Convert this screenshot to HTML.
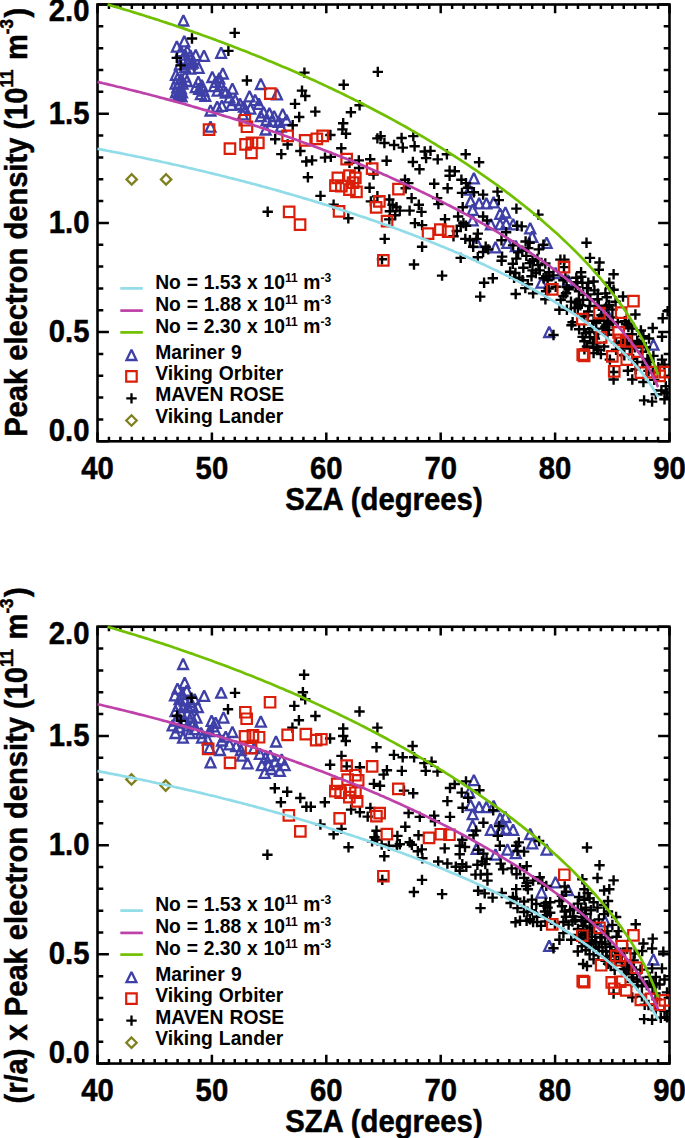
<!DOCTYPE html>
<html><head><meta charset="utf-8"><title>Peak electron density vs SZA</title>
<style>html,body{margin:0;padding:0;background:#fff}svg{display:block}</style></head>
<body>
<svg width="685" height="1138" viewBox="0 0 685 1138">
<rect width="685" height="1138" fill="#fff"/>
<clipPath id="cp1"><rect x="97.5" y="4.5" width="572.0" height="436.8"/></clipPath>
<rect x="97.50" y="4.50" width="572.00" height="436.80" fill="none" stroke="#000" stroke-width="2.6"/>
<path d="M97.50 441.30v-8.8M97.50 4.50v8.8M108.94 441.30v-4.5M108.94 4.50v4.5M120.38 441.30v-4.5M120.38 4.50v4.5M131.82 441.30v-4.5M131.82 4.50v4.5M143.26 441.30v-4.5M143.26 4.50v4.5M154.70 441.30v-4.5M154.70 4.50v4.5M166.14 441.30v-4.5M166.14 4.50v4.5M177.58 441.30v-4.5M177.58 4.50v4.5M189.02 441.30v-4.5M189.02 4.50v4.5M200.46 441.30v-4.5M200.46 4.50v4.5M211.90 441.30v-8.8M211.90 4.50v8.8M223.34 441.30v-4.5M223.34 4.50v4.5M234.78 441.30v-4.5M234.78 4.50v4.5M246.22 441.30v-4.5M246.22 4.50v4.5M257.66 441.30v-4.5M257.66 4.50v4.5M269.10 441.30v-4.5M269.10 4.50v4.5M280.54 441.30v-4.5M280.54 4.50v4.5M291.98 441.30v-4.5M291.98 4.50v4.5M303.42 441.30v-4.5M303.42 4.50v4.5M314.86 441.30v-4.5M314.86 4.50v4.5M326.30 441.30v-8.8M326.30 4.50v8.8M337.74 441.30v-4.5M337.74 4.50v4.5M349.18 441.30v-4.5M349.18 4.50v4.5M360.62 441.30v-4.5M360.62 4.50v4.5M372.06 441.30v-4.5M372.06 4.50v4.5M383.50 441.30v-4.5M383.50 4.50v4.5M394.94 441.30v-4.5M394.94 4.50v4.5M406.38 441.30v-4.5M406.38 4.50v4.5M417.82 441.30v-4.5M417.82 4.50v4.5M429.26 441.30v-4.5M429.26 4.50v4.5M440.70 441.30v-8.8M440.70 4.50v8.8M452.14 441.30v-4.5M452.14 4.50v4.5M463.58 441.30v-4.5M463.58 4.50v4.5M475.02 441.30v-4.5M475.02 4.50v4.5M486.46 441.30v-4.5M486.46 4.50v4.5M497.90 441.30v-4.5M497.90 4.50v4.5M509.34 441.30v-4.5M509.34 4.50v4.5M520.78 441.30v-4.5M520.78 4.50v4.5M532.22 441.30v-4.5M532.22 4.50v4.5M543.66 441.30v-4.5M543.66 4.50v4.5M555.10 441.30v-8.8M555.10 4.50v8.8M566.54 441.30v-4.5M566.54 4.50v4.5M577.98 441.30v-4.5M577.98 4.50v4.5M589.42 441.30v-4.5M589.42 4.50v4.5M600.86 441.30v-4.5M600.86 4.50v4.5M612.30 441.30v-4.5M612.30 4.50v4.5M623.74 441.30v-4.5M623.74 4.50v4.5M635.18 441.30v-4.5M635.18 4.50v4.5M646.62 441.30v-4.5M646.62 4.50v4.5M658.06 441.30v-4.5M658.06 4.50v4.5M669.50 441.30v-8.8M669.50 4.50v8.8M97.50 441.30h11.4M669.50 441.30h-11.4M97.50 419.46h5.8M669.50 419.46h-5.8M97.50 397.62h5.8M669.50 397.62h-5.8M97.50 375.78h5.8M669.50 375.78h-5.8M97.50 353.94h5.8M669.50 353.94h-5.8M97.50 332.10h11.4M669.50 332.10h-11.4M97.50 310.26h5.8M669.50 310.26h-5.8M97.50 288.42h5.8M669.50 288.42h-5.8M97.50 266.58h5.8M669.50 266.58h-5.8M97.50 244.74h5.8M669.50 244.74h-5.8M97.50 222.90h11.4M669.50 222.90h-11.4M97.50 201.06h5.8M669.50 201.06h-5.8M97.50 179.22h5.8M669.50 179.22h-5.8M97.50 157.38h5.8M669.50 157.38h-5.8M97.50 135.54h5.8M669.50 135.54h-5.8M97.50 113.70h11.4M669.50 113.70h-11.4M97.50 91.86h5.8M669.50 91.86h-5.8M97.50 70.02h5.8M669.50 70.02h-5.8M97.50 48.18h5.8M669.50 48.18h-5.8M97.50 26.34h5.8M669.50 26.34h-5.8M97.50 4.50h11.4M669.50 4.50h-11.4" stroke="#000" stroke-width="2.5" fill="none"/>
<path d="M468.9 183.4L478.8 183.4L473.9 173.1ZM464.4 194.6L474.2 194.6L469.3 184.3ZM465.7 206.4L475.6 206.4L470.6 196.1ZM474.2 208.4L484.1 208.4L479.1 198.1ZM481.4 208.4L491.3 208.4L486.4 198.1ZM488.7 207.4L498.6 207.4L493.6 197.1ZM467.7 214.9L477.6 214.9L472.6 204.6ZM495.2 218.9L505.1 218.9L500.1 208.6ZM500.4 217.5L510.3 217.5L505.4 207.2ZM485.9 229.4L495.8 229.4L490.9 219.1ZM495.2 229.4L505.1 229.4L500.1 219.1ZM501.2 228.7L511.1 228.7L506.1 218.4ZM467.7 225.4L477.6 225.4L472.6 215.1ZM490.6 252.4L500.4 252.4L495.5 242.1ZM502.4 247.8L512.4 247.8L507.4 237.5ZM471.6 247.1L481.4 247.1L476.5 236.8ZM508.2 229.4L518.1 229.4L513.1 219.1ZM525.2 233.3L535.2 233.3L530.2 223.0ZM527.2 241.9L537.2 241.9L532.2 231.6ZM541.6 247.8L551.6 247.8L546.6 237.5ZM510.8 251.1L520.8 251.1L515.8 240.8ZM544.2 337.0L554.2 337.0L549.2 326.7ZM648.4 349.7L658.4 349.7L653.4 339.4ZM220.8 97.5L230.6 97.5L225.7 87.2ZM227.5 93.7L237.3 93.7L232.4 83.4ZM224.6 102.3L234.4 102.3L229.5 92.0ZM230.2 105.1L240.1 105.1L235.2 94.8ZM235.1 108.9L244.9 108.9L240.0 98.6ZM226.5 109.8L236.3 109.8L231.4 99.5ZM238.9 111.7L248.8 111.7L243.8 101.4ZM244.6 101.3L254.4 101.3L249.5 91.0ZM250.2 105.1L260.1 105.1L255.1 94.8ZM253.9 108.9L263.8 108.9L258.9 98.6ZM255.9 89.0L265.8 89.0L260.8 78.7ZM272.1 99.4L281.9 99.4L277.0 89.1ZM205.6 115.5L215.4 115.5L210.5 105.2ZM212.2 111.7L222.1 111.7L217.2 101.4ZM217.0 110.8L226.8 110.8L221.9 100.5ZM205.6 131.7L215.4 131.7L210.5 121.4ZM258.8 117.4L268.6 117.4L263.7 107.1ZM264.4 118.4L274.3 118.4L269.4 108.1ZM255.9 121.2L265.8 121.2L260.8 110.9ZM269.2 121.2L279.1 121.2L274.1 110.9ZM277.8 119.3L287.6 119.3L282.7 109.0ZM261.6 125.0L271.4 125.0L266.5 114.7ZM267.2 126.0L277.1 126.0L272.2 115.7ZM273.9 126.9L283.8 126.9L278.9 116.6ZM281.6 125.0L291.4 125.0L286.5 114.7ZM260.7 134.5L270.6 134.5L265.6 124.2ZM275.9 131.7L285.8 131.7L280.8 121.4ZM245.5 113.6L255.3 113.6L250.4 103.3ZM237.9 119.3L247.8 119.3L242.8 109.0ZM179.4 46.4L189.2 46.4L184.3 36.1ZM171.9 51.6L181.8 51.6L176.8 41.3ZM182.4 55.8L192.2 55.8L187.3 45.5ZM190.8 60.1L200.6 60.1L195.7 49.8ZM199.1 60.8L208.9 60.8L204.0 50.5ZM216.2 57.8L226.0 57.8L221.1 47.5ZM193.8 72.8L203.6 72.8L198.7 62.5ZM186.4 68.5L196.2 68.5L191.3 58.2ZM175.9 56.2L185.8 56.2L180.8 45.9ZM180.2 59.7L190.0 59.7L185.1 49.4ZM185.5 60.6L195.3 60.6L190.4 50.3ZM177.6 64.1L187.4 64.1L182.5 53.8ZM182.9 66.7L192.8 66.7L187.8 56.4ZM188.1 67.6L197.9 67.6L193.0 57.3ZM180.2 72.0L190.0 72.0L185.1 61.7ZM185.5 73.7L195.3 73.7L190.4 63.4ZM175.0 69.3L184.8 69.3L179.9 59.0ZM172.8 83.3L182.6 83.3L177.7 73.0ZM176.2 84.2L186.1 84.2L181.2 73.9ZM174.1 87.7L183.9 87.7L179.0 77.4ZM177.6 88.6L187.4 88.6L182.5 78.3ZM172.4 92.1L182.2 92.1L177.3 81.8ZM175.9 93.0L185.8 93.0L180.8 82.7ZM174.1 96.5L183.9 96.5L179.0 86.2ZM177.2 97.4L187.0 97.4L182.1 87.1ZM173.2 100.9L183.0 100.9L178.1 90.6ZM176.7 101.3L186.5 101.3L181.6 91.0ZM175.0 99.1L184.8 99.1L179.9 88.8ZM180.2 81.6L190.0 81.6L185.1 71.3ZM182.0 86.0L191.8 86.0L186.9 75.7ZM193.4 86.9L203.2 86.9L198.3 76.6ZM196.9 90.4L206.8 90.4L201.8 80.1ZM194.2 93.9L204.1 93.9L199.2 83.6ZM198.6 95.6L208.4 95.6L203.5 85.3ZM196.0 99.1L205.8 99.1L200.9 88.8ZM200.4 100.9L210.2 100.9L205.3 90.6ZM190.8 92.1L200.6 92.1L195.7 81.8ZM207.4 82.0L217.2 82.0L212.3 71.7ZM210.9 86.9L220.8 86.9L215.8 76.6ZM214.4 83.3L224.2 83.3L219.3 73.0ZM217.9 78.5L227.8 78.5L222.8 68.2ZM209.1 91.2L218.9 91.2L214.0 80.9ZM216.2 90.4L226.0 90.4L221.1 80.1ZM212.7 95.6L222.5 95.6L217.6 85.3ZM218.8 95.6L228.6 95.6L223.7 85.3ZM171.0 79.8L180.8 79.8L175.9 69.5ZM170.6 88.6L180.4 88.6L175.5 78.3ZM171.0 97.4L180.8 97.4L175.9 87.1ZM550.5 278.1L560.5 278.1L555.5 267.8ZM536.5 287.7L546.5 287.7L541.5 277.4ZM563.0 285.3L573.0 285.3L568.0 275.0ZM600.0 314.3L610.0 314.3L605.0 304.0ZM178.5 25.5L188.3 25.5L183.4 15.2Z" stroke="#3e40a8" stroke-width="2.3" fill="none" stroke-linejoin="miter" stroke-miterlimit="2.2" clip-path="url(#cp1)"/>
<path d="M337.2 129.4h10.4M342.4 124.2v10.4M592.9 333.3h10.4M598.1 328.1v10.4M593.7 319.0h10.4M598.9 313.8v10.4M596.3 315.3h10.4M601.5 310.1v10.4M603.1 316.6h10.4M608.3 311.4v10.4M584.4 306.0h10.4M589.6 300.8v10.4M572.2 282.3h10.4M577.4 277.1v10.4M569.5 308.0h10.4M574.7 302.8v10.4M623.2 327.0h10.4M628.4 321.8v10.4M602.3 320.8h10.4M607.5 315.6v10.4M576.1 276.7h10.4M581.3 271.5v10.4M570.5 287.1h10.4M575.7 281.9v10.4M577.9 294.7h10.4M583.1 289.5v10.4M593.6 305.7h10.4M598.8 300.5v10.4M592.3 299.3h10.4M597.5 294.1v10.4M603.7 329.9h10.4M608.9 324.7v10.4M583.0 311.5h10.4M588.2 306.3v10.4M624.1 323.7h10.4M629.3 318.5v10.4M607.5 323.1h10.4M612.7 317.9v10.4M585.1 299.7h10.4M590.3 294.5v10.4M571.1 277.7h10.4M576.3 272.5v10.4M610.9 342.7h10.4M616.1 337.5v10.4M589.2 290.4h10.4M594.4 285.2v10.4M621.9 338.3h10.4M627.1 333.1v10.4M619.1 355.3h10.4M624.3 350.1v10.4M582.5 315.3h10.4M587.7 310.1v10.4M610.4 301.7h10.4M615.6 296.5v10.4M573.8 291.3h10.4M579.0 286.1v10.4M612.6 322.1h10.4M617.8 316.9v10.4M592.7 293.7h10.4M597.9 288.5v10.4M603.9 324.6h10.4M609.1 319.4v10.4M573.7 299.7h10.4M578.9 294.5v10.4M582.5 294.4h10.4M587.7 289.2v10.4M617.7 341.5h10.4M622.9 336.3v10.4M579.1 316.5h10.4M584.3 311.3v10.4M603.8 305.0h10.4M609.0 299.8v10.4M626.8 342.7h10.4M632.0 337.5v10.4M643.3 370.9h10.4M648.5 365.7v10.4M620.9 324.2h10.4M626.1 319.0v10.4M621.4 344.3h10.4M626.6 339.1v10.4M637.8 361.9h10.4M643.0 356.7v10.4M630.4 369.3h10.4M635.6 364.1v10.4M634.0 343.6h10.4M639.2 338.4v10.4M636.9 351.8h10.4M642.1 346.6v10.4M647.6 372.4h10.4M652.8 367.2v10.4M624.6 348.5h10.4M629.8 343.3v10.4M642.2 359.0h10.4M647.4 353.8v10.4M649.0 379.9h10.4M654.2 374.7v10.4M641.1 365.0h10.4M646.3 359.8v10.4M626.8 334.2h10.4M632.0 329.0v10.4M627.9 359.1h10.4M633.1 353.9v10.4M625.9 345.7h10.4M631.1 340.5v10.4M636.5 346.5h10.4M641.7 341.3v10.4M532.2 258.9h10.4M537.4 253.7v10.4M527.3 260.8h10.4M532.5 255.6v10.4M540.1 263.5h10.4M545.3 258.3v10.4M560.2 277.6h10.4M565.4 272.4v10.4M565.8 301.6h10.4M571.0 296.4v10.4M540.9 291.2h10.4M546.1 286.0v10.4M513.0 252.4h10.4M518.2 247.2v10.4M561.4 287.1h10.4M566.6 281.9v10.4M548.2 275.4h10.4M553.4 270.2v10.4M544.2 276.0h10.4M549.4 270.8v10.4M534.5 270.4h10.4M539.7 265.2v10.4M508.9 277.8h10.4M514.1 272.6v10.4M560.8 293.2h10.4M566.0 288.0v10.4M550.5 286.7h10.4M555.7 281.5v10.4M561.7 309.8h10.4M566.9 304.6v10.4M526.3 276.3h10.4M531.5 271.1v10.4M540.2 299.2h10.4M545.4 294.0v10.4M543.5 288.6h10.4M548.7 283.4v10.4M577.4 336.9h10.4M582.6 331.7v10.4M587.8 343.3h10.4M593.0 338.1v10.4M591.6 347.2h10.4M596.8 342.0v10.4M584.9 337.3h10.4M590.1 332.1v10.4M573.9 329.3h10.4M579.1 324.1v10.4M591.3 343.0h10.4M596.5 337.8v10.4M578.9 329.2h10.4M584.1 324.0v10.4M595.7 354.1h10.4M600.9 348.9v10.4M593.1 349.9h10.4M598.3 344.7v10.4M186.8 38.5h10.4M192.0 33.3v10.4M229.5 32.9h10.4M234.7 27.7v10.4M223.2 50.9h10.4M228.4 45.7v10.4M171.6 57.9h10.4M176.8 52.7v10.4M175.4 65.4h10.4M180.6 60.2v10.4M241.7 80.5h10.4M246.9 75.3v10.4M299.2 72.6h10.4M304.4 67.4v10.4M296.8 90.6h10.4M302.0 85.4v10.4M300.1 96.0h10.4M305.3 90.8v10.4M289.8 103.9h10.4M295.0 98.7v10.4M310.1 111.6h10.4M315.3 106.4v10.4M294.0 117.0h10.4M299.2 111.8v10.4M287.5 125.2h10.4M292.7 120.0v10.4M372.6 71.9h10.4M377.8 66.7v10.4M338.5 84.7h10.4M343.7 79.5v10.4M354.4 105.3h10.4M359.6 100.1v10.4M345.7 112.3h10.4M350.9 107.1v10.4M338.0 123.3h10.4M343.2 118.1v10.4M340.8 133.8h10.4M346.0 128.6v10.4M325.2 135.0h10.4M330.4 129.8v10.4M375.4 136.1h10.4M380.6 130.9v10.4M396.4 138.0h10.4M401.6 132.8v10.4M408.1 136.1h10.4M413.3 130.9v10.4M270.0 139.3h10.4M275.2 134.1v10.4M282.4 144.5h10.4M287.6 139.3v10.4M276.1 154.1h10.4M281.3 148.9v10.4M295.2 151.0h10.4M300.4 145.8v10.4M301.1 161.5h10.4M306.3 156.3v10.4M306.9 160.4h10.4M312.1 155.2v10.4M319.8 157.6h10.4M325.0 152.4v10.4M325.6 156.9h10.4M330.8 151.7v10.4M336.1 148.2h10.4M341.3 143.0v10.4M302.7 177.2h10.4M307.9 172.0v10.4M315.3 195.9h10.4M320.5 190.7v10.4M328.4 204.7h10.4M333.6 199.5v10.4M343.1 218.3h10.4M348.3 213.1v10.4M262.5 211.8h10.4M267.7 206.6v10.4M344.3 162.7h10.4M349.5 157.5v10.4M353.6 160.4h10.4M358.8 155.2v10.4M372.2 138.4h10.4M377.4 133.2v10.4M379.2 143.0h10.4M384.4 137.8v10.4M388.9 145.0h10.4M394.1 139.8v10.4M397.6 147.6h10.4M402.8 142.4v10.4M409.4 146.3h10.4M414.6 141.1v10.4M419.5 151.5h10.4M424.7 146.3v10.4M420.9 158.1h10.4M426.1 152.9v10.4M407.7 162.0h10.4M412.9 156.8v10.4M414.3 169.3h10.4M419.5 164.1v10.4M381.4 160.7h10.4M386.6 155.5v10.4M365.0 159.2h10.4M370.2 154.0v10.4M353.9 168.0h10.4M359.1 162.8v10.4M368.3 174.5h10.4M373.5 169.3v10.4M399.8 179.8h10.4M405.0 174.6v10.4M403.1 183.1h10.4M408.3 177.9v10.4M364.4 187.7h10.4M369.6 182.5v10.4M425.3 150.9h10.4M430.5 145.7v10.4M432.5 159.4h10.4M437.7 154.2v10.4M441.7 154.2h10.4M446.9 149.0v10.4M460.5 154.2h10.4M465.7 149.0v10.4M473.9 162.3h10.4M479.1 157.1v10.4M444.4 170.6h10.4M449.6 165.4v10.4M449.6 171.2h10.4M454.8 166.0v10.4M444.4 175.8h10.4M449.6 170.6v10.4M456.2 179.8h10.4M461.4 174.6v10.4M460.8 183.1h10.4M466.0 177.9v10.4M462.8 187.7h10.4M468.0 182.5v10.4M429.0 183.7h10.4M434.2 178.5v10.4M442.4 188.3h10.4M447.6 183.1v10.4M456.8 192.9h10.4M462.0 187.7v10.4M468.7 192.3h10.4M473.9 187.1v10.4M477.9 194.6h10.4M483.1 189.4v10.4M492.3 191.6h10.4M497.5 186.4v10.4M400.5 188.3h10.4M405.7 183.1v10.4M379.5 238.9h10.4M384.7 233.7v10.4M416.9 246.8h10.4M422.1 241.6v10.4M406.4 198.1h10.4M411.6 192.9v10.4M413.6 204.7h10.4M418.8 199.5v10.4M416.3 211.9h10.4M421.5 206.7v10.4M404.4 210.6h10.4M409.6 205.4v10.4M409.7 223.1h10.4M414.9 217.9v10.4M416.9 225.1h10.4M422.1 219.9v10.4M384.1 199.5h10.4M389.3 194.3v10.4M365.7 201.4h10.4M370.9 196.2v10.4M372.2 196.2h10.4M377.4 191.0v10.4M387.4 204.7h10.4M392.6 199.5v10.4M391.3 207.3h10.4M396.5 202.1v10.4M394.6 210.6h10.4M399.8 205.4v10.4M384.7 211.3h10.4M389.9 206.1v10.4M390.0 215.2h10.4M395.2 210.0v10.4M384.1 219.4h10.4M389.3 214.2v10.4M376.8 259.2h10.4M382.0 254.0v10.4M493.6 200.1h10.4M498.8 194.9v10.4M431.9 198.1h10.4M437.1 192.9v10.4M433.2 204.1h10.4M438.4 198.9v10.4M439.8 219.2h10.4M445.0 214.0v10.4M457.5 207.3h10.4M462.7 202.1v10.4M452.9 216.5h10.4M458.1 211.3v10.4M458.2 223.1h10.4M463.4 217.9v10.4M460.8 225.7h10.4M466.0 220.5v10.4M455.5 225.7h10.4M460.7 220.5v10.4M477.9 216.5h10.4M483.1 211.3v10.4M481.8 220.5h10.4M487.0 215.3v10.4M472.6 233.6h10.4M477.8 228.4v10.4M460.1 238.9h10.4M465.3 233.7v10.4M464.7 240.2h10.4M469.9 235.0v10.4M471.3 238.9h10.4M476.5 233.7v10.4M468.0 246.8h10.4M473.2 241.6v10.4M480.5 246.8h10.4M485.7 241.6v10.4M483.1 249.4h10.4M488.3 244.2v10.4M477.9 252.0h10.4M483.1 246.8v10.4M496.3 240.2h10.4M501.5 235.0v10.4M500.9 232.3h10.4M506.1 227.1v10.4M448.3 236.2h10.4M453.5 231.0v10.4M451.6 231.0h10.4M456.8 225.8v10.4M455.5 257.9h10.4M460.7 252.7v10.4M472.6 257.3h10.4M477.8 252.1v10.4M496.9 256.6h10.4M502.1 251.4v10.4M511.2 208.6h10.4M516.4 203.4v10.4M533.2 214.6h10.4M538.4 209.4v10.4M581.3 242.8h10.4M586.5 237.6v10.4M511.9 225.7h10.4M517.1 220.5v10.4M516.5 226.4h10.4M521.7 221.2v10.4M507.9 245.4h10.4M513.1 240.2v10.4M520.4 241.5h10.4M525.6 236.3v10.4M524.4 242.8h10.4M529.6 237.6v10.4M523.0 248.1h10.4M528.2 242.9v10.4M517.1 250.7h10.4M522.3 245.5v10.4M533.6 249.4h10.4M538.8 244.2v10.4M538.2 244.8h10.4M543.4 239.6v10.4M511.2 258.6h10.4M516.4 253.4v10.4M521.1 255.9h10.4M526.3 250.7v10.4M555.2 259.6h10.4M560.4 254.4v10.4M559.2 259.6h10.4M564.4 254.4v10.4M584.8 257.9h10.4M590.0 252.7v10.4M408.8 264.5h10.4M414.0 259.3v10.4M436.9 275.6h10.4M442.1 270.4v10.4M496.4 260.8h10.4M501.6 255.6v10.4M507.6 263.8h10.4M512.8 258.6v10.4M504.9 271.7h10.4M510.1 266.5v10.4M510.2 273.0h10.4M515.4 267.8v10.4M514.1 277.6h10.4M519.3 272.4v10.4M487.6 278.2h10.4M492.8 273.0v10.4M478.9 282.8h10.4M484.1 277.6v10.4M475.0 296.6h10.4M480.2 291.4v10.4M510.5 294.0h10.4M515.7 288.8v10.4M524.7 263.1h10.4M529.9 257.9v10.4M518.1 267.7h10.4M523.3 262.5v10.4M527.3 270.4h10.4M532.5 265.2v10.4M533.2 265.1h10.4M538.4 259.9v10.4M530.6 273.0h10.4M535.8 267.8v10.4M517.4 280.2h10.4M522.6 275.0v10.4M522.7 284.2h10.4M527.9 279.0v10.4M527.9 293.4h10.4M533.1 288.2v10.4M520.1 288.1h10.4M525.3 282.9v10.4M541.1 276.3h10.4M546.3 271.1v10.4M543.7 272.3h10.4M548.9 267.1v10.4M594.3 262.5h10.4M599.5 257.3v10.4M593.6 269.7h10.4M598.8 264.5v10.4M575.9 272.3h10.4M581.1 267.1v10.4M577.2 282.8h10.4M582.4 277.6v10.4M583.1 282.8h10.4M588.3 277.6v10.4M588.4 281.5h10.4M593.6 276.3v10.4M558.2 280.2h10.4M563.4 275.0v10.4M563.4 289.4h10.4M568.6 284.2v10.4M558.2 296.0h10.4M563.4 290.8v10.4M555.5 299.9h10.4M560.7 294.7v10.4M554.2 309.8h10.4M559.4 304.6v10.4M571.3 302.6h10.4M576.5 297.4v10.4M575.2 305.2h10.4M580.4 300.0v10.4M577.9 299.9h10.4M583.1 294.7v10.4M572.6 307.8h10.4M577.8 302.6v10.4M600.2 293.4h10.4M605.4 288.2v10.4M601.5 297.3h10.4M606.7 292.1v10.4M604.1 282.8h10.4M609.3 277.6v10.4M604.8 288.1h10.4M610.0 282.9v10.4M567.4 322.3h10.4M572.6 317.1v10.4M588.4 320.9h10.4M593.6 315.7v10.4M598.9 320.9h10.4M604.1 315.7v10.4M581.8 288.1h10.4M587.0 282.9v10.4M558.8 267.1h10.4M564.0 261.9v10.4M542.4 280.2h10.4M547.6 275.0v10.4M538.4 278.2h10.4M543.6 273.0v10.4M608.4 274.2h10.4M613.6 269.0v10.4M608.4 289.7h10.4M613.6 284.5v10.4M617.8 296.5h10.4M623.0 291.3v10.4M630.2 314.5h10.4M635.4 309.3v10.4M657.5 318.2h10.4M662.7 313.0v10.4M607.2 309.6h10.4M612.4 304.4v10.4M601.0 307.1h10.4M606.2 301.9v10.4M548.3 335.0h10.4M553.5 329.8v10.4M566.3 325.2h10.4M571.5 320.0v10.4M580.5 333.4h10.4M585.7 328.2v10.4M579.2 341.3h10.4M584.4 336.1v10.4M581.8 346.5h10.4M587.0 341.3v10.4M588.4 347.8h10.4M593.6 342.6v10.4M587.1 328.1h10.4M592.3 322.9v10.4M591.0 322.9h10.4M596.2 317.7v10.4M600.2 326.8h10.4M605.4 321.6v10.4M579.2 349.4h10.4M584.4 344.2v10.4M598.9 346.5h10.4M604.1 341.3v10.4M588.4 353.1h10.4M593.6 347.9v10.4M584.4 332.1h10.4M589.6 326.9v10.4M589.7 338.6h10.4M594.9 333.4v10.4M647.5 328.0h10.4M652.7 322.8v10.4M656.8 336.7h10.4M662.0 331.5v10.4M635.7 330.5h10.4M640.9 325.3v10.4M638.2 336.1h10.4M643.4 330.9v10.4M643.8 338.5h10.4M649.0 333.3v10.4M632.0 341.0h10.4M637.2 335.8v10.4M648.2 355.9h10.4M653.4 350.7v10.4M656.8 359.6h10.4M662.0 354.4v10.4M659.3 364.6h10.4M664.5 359.4v10.4M608.4 372.0h10.4M613.6 366.8v10.4M608.4 379.5h10.4M613.6 374.3v10.4M622.7 370.8h10.4M627.9 365.6v10.4M627.1 379.5h10.4M632.3 374.3v10.4M627.1 328.6h10.4M632.3 323.4v10.4M619.6 321.2h10.4M624.8 316.0v10.4M653.1 367.1h10.4M658.3 361.9v10.4M604.7 359.6h10.4M609.9 354.4v10.4M610.9 349.7h10.4M616.1 344.5v10.4M632.0 362.1h10.4M637.2 356.9v10.4M638.2 382.0h10.4M643.4 376.8v10.4M662.4 311.2h10.4M667.6 306.0v10.4M607.2 317.4h10.4M612.4 312.2v10.4M597.3 328.6h10.4M602.5 323.4v10.4M602.2 334.8h10.4M607.4 329.6v10.4M629.5 347.2h10.4M634.7 342.0v10.4M617.1 348.5h10.4M622.3 343.3v10.4M640.7 347.2h10.4M645.9 342.0v10.4M644.4 362.1h10.4M649.6 356.9v10.4M638.9 400.4h10.4M644.1 395.2v10.4M646.9 401.6h10.4M652.1 396.4v10.4M656.2 390.5h10.4M661.4 385.3v10.4M660.6 386.1h10.4M665.8 380.9v10.4M661.8 393.0h10.4M667.0 387.8v10.4M659.3 399.2h10.4M664.5 394.0v10.4M650.6 394.2h10.4M655.8 389.0v10.4" stroke="#000" stroke-width="2.4" fill="none" clip-path="url(#cp1)"/>
<path d="M265.1 88.3h10.5v10.5h-10.5ZM239.6 115.0h10.5v10.5h-10.5ZM241.7 121.5h10.5v10.5h-10.5ZM203.8 124.3h10.5v10.5h-10.5ZM224.7 143.4h10.5v10.5h-10.5ZM240.3 139.2h10.5v10.5h-10.5ZM246.7 137.6h10.5v10.5h-10.5ZM253.1 137.6h10.5v10.5h-10.5ZM246.2 147.7h10.5v10.5h-10.5ZM282.4 130.6h10.5v10.5h-10.5ZM299.9 135.2h10.5v10.5h-10.5ZM311.6 133.7h10.5v10.5h-10.5ZM317.4 130.6h10.5v10.5h-10.5ZM341.4 153.9h10.5v10.5h-10.5ZM332.6 172.7h10.5v10.5h-10.5ZM344.2 170.3h10.5v10.5h-10.5ZM350.1 172.7h10.5v10.5h-10.5ZM330.2 180.3h10.5v10.5h-10.5ZM336.1 180.8h10.5v10.5h-10.5ZM344.2 184.3h10.5v10.5h-10.5ZM351.2 186.7h10.5v10.5h-10.5ZM347.8 177.3h10.5v10.5h-10.5ZM333.8 206.1h10.5v10.5h-10.5ZM283.9 206.6h10.5v10.5h-10.5ZM294.8 219.3h10.5v10.5h-10.5ZM366.9 163.3h10.5v10.5h-10.5ZM393.2 183.8h10.5v10.5h-10.5ZM374.1 196.2h10.5v10.5h-10.5ZM370.9 202.1h10.5v10.5h-10.5ZM381.8 215.8h10.5v10.5h-10.5ZM422.8 228.3h10.5v10.5h-10.5ZM378.1 255.2h10.5v10.5h-10.5ZM435.1 224.4h10.5v10.5h-10.5ZM442.9 226.3h10.5v10.5h-10.5ZM558.8 261.9h10.5v10.5h-10.5ZM547.0 284.1h10.5v10.5h-10.5ZM594.2 307.9h10.5v10.5h-10.5ZM577.1 313.8h10.5v10.5h-10.5ZM628.2 295.9h10.5v10.5h-10.5ZM615.9 307.4h10.5v10.5h-10.5ZM595.9 332.1h10.5v10.5h-10.5ZM577.5 349.4h10.5v10.5h-10.5ZM613.4 327.1h10.5v10.5h-10.5ZM614.6 334.6h10.5v10.5h-10.5ZM621.0 336.1h10.5v10.5h-10.5ZM632.0 346.4h10.5v10.5h-10.5ZM607.1 351.2h10.5v10.5h-10.5ZM621.5 354.4h10.5v10.5h-10.5ZM609.0 366.1h10.5v10.5h-10.5ZM635.6 367.4h10.5v10.5h-10.5ZM646.9 366.8h10.5v10.5h-10.5ZM654.4 370.6h10.5v10.5h-10.5ZM659.9 366.8h10.5v10.5h-10.5ZM578.9 350.6h10.5v10.5h-10.5Z" stroke="#da1e0a" stroke-width="2.2" fill="none" clip-path="url(#cp1)"/>
<path d="M131.7 174.2l5.2 5.2l-5.2 5.2l-5.2 -5.2ZM166.1 174.2l5.2 5.2l-5.2 5.2l-5.2 -5.2Z" stroke="#808020" stroke-width="2.3" fill="none"/>
<path d="M97.5 148.8L100.4 149.4L103.2 149.9L106.1 150.5L108.9 151.0L111.8 151.6L114.7 152.1L117.5 152.7L120.4 153.2L123.2 153.8L126.1 154.4L129.0 155.0L131.8 155.5L134.7 156.1L137.5 156.7L140.4 157.3L143.3 157.9L146.1 158.5L149.0 159.1L151.8 159.7L154.7 160.3L157.6 160.9L160.4 161.5L163.3 162.2L166.1 162.8L169.0 163.4L171.9 164.1L174.7 164.7L177.6 165.3L180.4 166.0L183.3 166.6L186.2 167.3L189.0 168.0L191.9 168.6L194.7 169.3L197.6 170.0L200.5 170.6L203.3 171.3L206.2 172.0L209.0 172.7L211.9 173.4L214.8 174.1L217.6 174.8L220.5 175.5L223.3 176.2L226.2 176.9L229.1 177.7L231.9 178.4L234.8 179.1L237.6 179.8L240.5 180.6L243.4 181.3L246.2 182.1L249.1 182.8L251.9 183.6L254.8 184.3L257.7 185.1L260.5 185.9L263.4 186.7L266.2 187.4L269.1 188.2L272.0 189.0L274.8 189.8L277.7 190.6L280.5 191.4L283.4 192.2L286.3 193.1L289.1 193.9L292.0 194.7L294.8 195.5L297.7 196.4L300.6 197.2L303.4 198.1L306.3 198.9L309.1 199.8L312.0 200.6L314.9 201.5L317.7 202.4L320.6 203.2L323.4 204.1L326.3 205.0L329.2 205.9L332.0 206.8L334.9 207.7L337.7 208.6L340.6 209.6L343.5 210.5L346.3 211.4L349.2 212.3L352.0 213.3L354.9 214.2L357.8 215.2L360.6 216.2L363.5 217.1L366.3 218.1L369.2 219.1L372.1 220.1L374.9 221.1L377.8 222.1L380.6 223.1L383.5 224.1L386.4 225.1L389.2 226.1L392.1 227.2L394.9 228.2L397.8 229.2L400.7 230.3L403.5 231.4L406.4 232.4L409.2 233.5L412.1 234.6L415.0 235.7L417.8 236.8L420.7 237.9L423.5 239.0L426.4 240.1L429.3 241.3L432.1 242.4L435.0 243.6L437.8 244.7L440.7 245.9L443.6 247.1L446.4 248.2L449.3 249.4L452.1 250.6L455.0 251.9L457.9 253.1L460.7 254.3L463.6 255.5L466.4 256.8L469.3 258.1L472.2 259.3L475.0 260.6L477.9 261.9L480.7 263.2L483.6 264.5L486.5 265.9L489.3 267.2L492.2 268.6L495.0 269.9L497.9 271.3L500.8 272.7L503.6 274.1L506.5 275.5L509.3 276.9L512.2 278.4L515.1 279.9L517.9 281.3L520.8 282.8L523.6 284.3L526.5 285.8L529.4 287.4L532.2 288.9L535.1 290.5L537.9 292.1L540.8 293.7L543.7 295.3L546.5 297.0L549.4 298.7L552.2 300.3L555.1 302.1L558.0 303.8L560.8 305.5L563.7 307.3L566.5 309.1L569.4 311.0L572.3 312.8L575.1 314.7L578.0 316.6L580.8 318.6L583.7 320.6L586.6 322.6L589.4 324.6L592.3 326.7L595.1 328.9L598.0 331.0L600.9 333.3L603.7 335.5L606.6 337.8L609.4 340.2L612.3 342.7L615.2 345.1L618.0 347.7L620.9 350.3L623.7 353.0L626.6 355.8L629.5 358.7L632.3 361.7L635.2 364.9L638.0 368.1L640.9 371.5L643.8 375.1L646.6 378.9L649.5 382.9L652.3 387.2L655.2 391.9L658.1 397.2" stroke="#90dce8" stroke-width="2.7" fill="none"/>
<path d="M97.5 81.9L100.4 82.6L103.2 83.3L106.1 83.9L108.9 84.6L111.8 85.3L114.7 86.0L117.5 86.7L120.4 87.3L123.2 88.0L126.1 88.7L129.0 89.5L131.8 90.2L134.7 90.9L137.5 91.6L140.4 92.3L143.3 93.1L146.1 93.8L149.0 94.5L151.8 95.3L154.7 96.0L157.6 96.8L160.4 97.6L163.3 98.3L166.1 99.1L169.0 99.9L171.9 100.6L174.7 101.4L177.6 102.2L180.4 103.0L183.3 103.8L186.2 104.6L189.0 105.4L191.9 106.3L194.7 107.1L197.6 107.9L200.5 108.7L203.3 109.6L206.2 110.4L209.0 111.3L211.9 112.1L214.8 113.0L217.6 113.8L220.5 114.7L223.3 115.6L226.2 116.5L229.1 117.3L231.9 118.2L234.8 119.1L237.6 120.0L240.5 120.9L243.4 121.9L246.2 122.8L249.1 123.7L251.9 124.6L254.8 125.6L257.7 126.5L260.5 127.5L263.4 128.4L266.2 129.4L269.1 130.3L272.0 131.3L274.8 132.3L277.7 133.3L280.5 134.3L283.4 135.3L286.3 136.3L289.1 137.3L292.0 138.3L294.8 139.3L297.7 140.3L300.6 141.4L303.4 142.4L306.3 143.5L309.1 144.5L312.0 145.6L314.9 146.6L317.7 147.7L320.6 148.8L323.4 149.9L326.3 151.0L329.2 152.1L332.0 153.2L334.9 154.3L337.7 155.4L340.6 156.5L343.5 157.7L346.3 158.8L349.2 160.0L352.0 161.1L354.9 162.3L357.8 163.5L360.6 164.6L363.5 165.8L366.3 167.0L369.2 168.2L372.1 169.4L374.9 170.7L377.8 171.9L380.6 173.1L383.5 174.4L386.4 175.6L389.2 176.9L392.1 178.2L394.9 179.4L397.8 180.7L400.7 182.0L403.5 183.3L406.4 184.6L409.2 186.0L412.1 187.3L415.0 188.6L417.8 190.0L420.7 191.4L423.5 192.7L426.4 194.1L429.3 195.5L432.1 196.9L435.0 198.3L437.8 199.7L440.7 201.2L443.6 202.6L446.4 204.1L449.3 205.5L452.1 207.0L455.0 208.5L457.9 210.0L460.7 211.5L463.6 213.1L466.4 214.6L469.3 216.1L472.2 217.7L475.0 219.3L477.9 220.9L480.7 222.5L483.6 224.1L486.5 225.7L489.3 227.4L492.2 229.0L495.0 230.7L497.9 232.4L500.8 234.1L503.6 235.8L506.5 237.6L509.3 239.3L512.2 241.1L515.1 242.9L517.9 244.7L520.8 246.6L523.6 248.4L526.5 250.3L529.4 252.2L532.2 254.1L535.1 256.0L537.9 258.0L540.8 259.9L543.7 261.9L546.5 264.0L549.4 266.0L552.2 268.1L555.1 270.2L558.0 272.3L560.8 274.5L563.7 276.7L566.5 278.9L569.4 281.2L572.3 283.4L575.1 285.8L578.0 288.1L580.8 290.5L583.7 293.0L586.6 295.4L589.4 298.0L592.3 300.5L595.1 303.2L598.0 305.8L600.9 308.6L603.7 311.3L606.6 314.2L609.4 317.1L612.3 320.1L615.2 323.1L618.0 326.3L620.9 329.5L623.7 332.9L626.6 336.3L629.5 339.9L632.3 343.5L635.2 347.4L638.0 351.4L640.9 355.5L643.8 359.9L646.6 364.6L649.5 369.5L652.3 374.9L655.2 380.7L658.1 387.1" stroke="#be41a9" stroke-width="2.7" fill="none"/>
<path d="M107.51 4.50L108.9 4.9L111.8 5.7L114.7 6.6L117.5 7.4L120.4 8.3L123.2 9.1L126.1 10.0L129.0 10.8L131.8 11.7L134.7 12.6L137.5 13.5L140.4 14.4L143.3 15.3L146.1 16.2L149.0 17.1L151.8 18.0L154.7 18.9L157.6 19.8L160.4 20.8L163.3 21.7L166.1 22.6L169.0 23.6L171.9 24.5L174.7 25.5L177.6 26.5L180.4 27.4L183.3 28.4L186.2 29.4L189.0 30.4L191.9 31.4L194.7 32.4L197.6 33.4L200.5 34.4L203.3 35.5L206.2 36.5L209.0 37.5L211.9 38.6L214.8 39.6L217.6 40.7L220.5 41.7L223.3 42.8L226.2 43.9L229.1 45.0L231.9 46.1L234.8 47.2L237.6 48.3L240.5 49.4L243.4 50.5L246.2 51.6L249.1 52.7L251.9 53.9L254.8 55.0L257.7 56.2L260.5 57.3L263.4 58.5L266.2 59.7L269.1 60.9L272.0 62.1L274.8 63.3L277.7 64.5L280.5 65.7L283.4 66.9L286.3 68.1L289.1 69.3L292.0 70.6L294.8 71.8L297.7 73.1L300.6 74.4L303.4 75.6L306.3 76.9L309.1 78.2L312.0 79.5L314.9 80.8L317.7 82.1L320.6 83.4L323.4 84.8L326.3 86.1L329.2 87.5L332.0 88.8L334.9 90.2L337.7 91.5L340.6 92.9L343.5 94.3L346.3 95.7L349.2 97.1L352.0 98.5L354.9 100.0L357.8 101.4L360.6 102.8L363.5 104.3L366.3 105.8L369.2 107.2L372.1 108.7L374.9 110.2L377.8 111.7L380.6 113.2L383.5 114.7L386.4 116.3L389.2 117.8L392.1 119.4L394.9 120.9L397.8 122.5L400.7 124.1L403.5 125.7L406.4 127.3L409.2 128.9L412.1 130.6L415.0 132.2L417.8 133.9L420.7 135.5L423.5 137.2L426.4 138.9L429.3 140.6L432.1 142.3L435.0 144.0L437.8 145.8L440.7 147.5L443.6 149.3L446.4 151.1L449.3 152.9L452.1 154.7L455.0 156.5L457.9 158.3L460.7 160.2L463.6 162.1L466.4 163.9L469.3 165.8L472.2 167.8L475.0 169.7L477.9 171.6L480.7 173.6L483.6 175.6L486.5 177.6L489.3 179.6L492.2 181.6L495.0 183.7L497.9 185.7L500.8 187.8L503.6 189.9L506.5 192.1L509.3 194.2L512.2 196.4L515.1 198.6L517.9 200.8L520.8 203.1L523.6 205.3L526.5 207.6L529.4 209.9L532.2 212.3L535.1 214.6L537.9 217.0L540.8 219.4L543.7 221.9L546.5 224.4L549.4 226.9L552.2 229.4L555.1 232.0L558.0 234.6L560.8 237.2L563.7 239.9L566.5 242.6L569.4 245.4L572.3 248.2L575.1 251.0L578.0 253.9L580.8 256.8L583.7 259.8L586.6 262.9L589.4 265.9L592.3 269.1L595.1 272.3L598.0 275.6L600.9 278.9L603.7 282.3L606.6 285.8L609.4 289.4L612.3 293.0L615.2 296.8L618.0 300.6L620.9 304.6L623.7 308.6L626.6 312.8L629.5 317.2L632.3 321.7L635.2 326.4L638.0 331.3L640.9 336.4L643.8 341.8L646.6 347.5L649.5 353.5L652.3 360.0L655.2 367.1L658.1 374.9" stroke="#70c000" stroke-width="2.7" fill="none"/>
<text transform="translate(97.5 478.5) scale(1 1.07)" font-size="29.3" text-anchor="middle" font-family="'Liberation Sans', sans-serif" font-weight="bold" stroke="#000" stroke-width="0.45">40</text>
<text transform="translate(211.9 478.5) scale(1 1.07)" font-size="29.3" text-anchor="middle" font-family="'Liberation Sans', sans-serif" font-weight="bold" stroke="#000" stroke-width="0.45">50</text>
<text transform="translate(326.3 478.5) scale(1 1.07)" font-size="29.3" text-anchor="middle" font-family="'Liberation Sans', sans-serif" font-weight="bold" stroke="#000" stroke-width="0.45">60</text>
<text transform="translate(440.7 478.5) scale(1 1.07)" font-size="29.3" text-anchor="middle" font-family="'Liberation Sans', sans-serif" font-weight="bold" stroke="#000" stroke-width="0.45">70</text>
<text transform="translate(555.1 478.5) scale(1 1.07)" font-size="29.3" text-anchor="middle" font-family="'Liberation Sans', sans-serif" font-weight="bold" stroke="#000" stroke-width="0.45">80</text>
<text transform="translate(669.5 478.5) scale(1 1.07)" font-size="29.3" text-anchor="middle" font-family="'Liberation Sans', sans-serif" font-weight="bold" stroke="#000" stroke-width="0.45">90</text>
<text transform="translate(89.5 441.0) scale(1 1.07)" font-size="29.3" text-anchor="end" font-family="'Liberation Sans', sans-serif" font-weight="bold" stroke="#000" stroke-width="0.45">0.0</text>
<text transform="translate(89.5 342.1) scale(1 1.07)" font-size="29.3" text-anchor="end" font-family="'Liberation Sans', sans-serif" font-weight="bold" stroke="#000" stroke-width="0.45">0.5</text>
<text transform="translate(89.5 232.9) scale(1 1.07)" font-size="29.3" text-anchor="end" font-family="'Liberation Sans', sans-serif" font-weight="bold" stroke="#000" stroke-width="0.45">1.0</text>
<text transform="translate(89.5 123.7) scale(1 1.07)" font-size="29.3" text-anchor="end" font-family="'Liberation Sans', sans-serif" font-weight="bold" stroke="#000" stroke-width="0.45">1.5</text>
<text transform="translate(89.5 21.2) scale(1 1.07)" font-size="29.3" text-anchor="end" font-family="'Liberation Sans', sans-serif" font-weight="bold" stroke="#000" stroke-width="0.45">2.0</text>
<text transform="translate(383.9 509.6) scale(1 1.07)" font-size="29.3" text-anchor="middle" font-family="'Liberation Sans', sans-serif" font-weight="bold" stroke="#000" stroke-width="0.45">SZA (degrees)</text>
<text transform="translate(26.8 436.8) rotate(-90) scale(1 1.07)" font-size="29.1" stroke="#000" stroke-width="0.45" font-family="'Liberation Sans', sans-serif" font-weight="bold">Peak electron density (10<tspan font-size="17" dy="-12.5">11</tspan><tspan dy="12.5" dx="1.5"> m</tspan><tspan font-size="17" dy="-12.5">-3</tspan><tspan dy="12.5" dx="1.5">)</tspan></text>
<path d="M120.3 288.4H142.8" stroke="#90dce8" stroke-width="2.7"/>
<text x="155.2" y="288.8" font-size="19.3" word-spacing="0.4" font-family="'Liberation Sans', sans-serif" font-weight="bold">No = 1.53 x 10<tspan font-size="12.0" dy="-7.3">11</tspan><tspan dy="7.3"> m</tspan><tspan font-size="12.0" dy="-7.3">-3</tspan></text>
<path d="M120.3 310.6H142.8" stroke="#be41a9" stroke-width="2.7"/>
<text x="155.2" y="311.0" font-size="19.3" word-spacing="0.4" font-family="'Liberation Sans', sans-serif" font-weight="bold">No = 1.88 x 10<tspan font-size="12.0" dy="-7.3">11</tspan><tspan dy="7.3"> m</tspan><tspan font-size="12.0" dy="-7.3">-3</tspan></text>
<path d="M120.3 332.4H142.8" stroke="#70c000" stroke-width="2.7"/>
<text x="155.2" y="332.8" font-size="19.3" word-spacing="0.4" font-family="'Liberation Sans', sans-serif" font-weight="bold">No = 2.30 x 10<tspan font-size="12.0" dy="-7.3">11</tspan><tspan dy="7.3"> m</tspan><tspan font-size="12.0" dy="-7.3">-3</tspan></text>
<text x="155.2" y="358.7" font-size="19.3" word-spacing="0.8" font-family="'Liberation Sans', sans-serif" font-weight="bold">Mariner 9</text>
<text x="155.2" y="379.7" font-size="19.3" word-spacing="0.8" font-family="'Liberation Sans', sans-serif" font-weight="bold">Viking Orbiter</text>
<text x="155.2" y="401.4" font-size="19.3" word-spacing="0.8" font-family="'Liberation Sans', sans-serif" font-weight="bold">MAVEN ROSE</text>
<text x="155.2" y="422.5" font-size="19.3" word-spacing="0.8" font-family="'Liberation Sans', sans-serif" font-weight="bold">Viking Lander</text>
<path d="M126.5 360.0L136.4 360.0L131.5 349.7Z" stroke="#3e40a8" stroke-width="2.3" fill="none" stroke-miterlimit="2.2"/>
<path d="M126.2 371.1h10.5v10.5h-10.5Z" stroke="#da1e0a" stroke-width="2.2" fill="none"/>
<path d="M126.3 398.4h10.4M131.5 393.2v10.4" stroke="#000" stroke-width="2.3" fill="none"/>
<path d="M131.5 415.3l5.2 5.2l-5.2 5.2l-5.2 -5.2Z" stroke="#808020" stroke-width="2.3" fill="none"/>
<clipPath id="cp2"><rect x="97.5" y="626.8" width="572.0" height="436.8"/></clipPath>
<rect x="97.50" y="626.75" width="572.00" height="436.80" fill="none" stroke="#000" stroke-width="2.6"/>
<path d="M97.50 1063.55v-8.8M97.50 626.75v8.8M108.94 1063.55v-4.5M108.94 626.75v4.5M120.38 1063.55v-4.5M120.38 626.75v4.5M131.82 1063.55v-4.5M131.82 626.75v4.5M143.26 1063.55v-4.5M143.26 626.75v4.5M154.70 1063.55v-4.5M154.70 626.75v4.5M166.14 1063.55v-4.5M166.14 626.75v4.5M177.58 1063.55v-4.5M177.58 626.75v4.5M189.02 1063.55v-4.5M189.02 626.75v4.5M200.46 1063.55v-4.5M200.46 626.75v4.5M211.90 1063.55v-8.8M211.90 626.75v8.8M223.34 1063.55v-4.5M223.34 626.75v4.5M234.78 1063.55v-4.5M234.78 626.75v4.5M246.22 1063.55v-4.5M246.22 626.75v4.5M257.66 1063.55v-4.5M257.66 626.75v4.5M269.10 1063.55v-4.5M269.10 626.75v4.5M280.54 1063.55v-4.5M280.54 626.75v4.5M291.98 1063.55v-4.5M291.98 626.75v4.5M303.42 1063.55v-4.5M303.42 626.75v4.5M314.86 1063.55v-4.5M314.86 626.75v4.5M326.30 1063.55v-8.8M326.30 626.75v8.8M337.74 1063.55v-4.5M337.74 626.75v4.5M349.18 1063.55v-4.5M349.18 626.75v4.5M360.62 1063.55v-4.5M360.62 626.75v4.5M372.06 1063.55v-4.5M372.06 626.75v4.5M383.50 1063.55v-4.5M383.50 626.75v4.5M394.94 1063.55v-4.5M394.94 626.75v4.5M406.38 1063.55v-4.5M406.38 626.75v4.5M417.82 1063.55v-4.5M417.82 626.75v4.5M429.26 1063.55v-4.5M429.26 626.75v4.5M440.70 1063.55v-8.8M440.70 626.75v8.8M452.14 1063.55v-4.5M452.14 626.75v4.5M463.58 1063.55v-4.5M463.58 626.75v4.5M475.02 1063.55v-4.5M475.02 626.75v4.5M486.46 1063.55v-4.5M486.46 626.75v4.5M497.90 1063.55v-4.5M497.90 626.75v4.5M509.34 1063.55v-4.5M509.34 626.75v4.5M520.78 1063.55v-4.5M520.78 626.75v4.5M532.22 1063.55v-4.5M532.22 626.75v4.5M543.66 1063.55v-4.5M543.66 626.75v4.5M555.10 1063.55v-8.8M555.10 626.75v8.8M566.54 1063.55v-4.5M566.54 626.75v4.5M577.98 1063.55v-4.5M577.98 626.75v4.5M589.42 1063.55v-4.5M589.42 626.75v4.5M600.86 1063.55v-4.5M600.86 626.75v4.5M612.30 1063.55v-4.5M612.30 626.75v4.5M623.74 1063.55v-4.5M623.74 626.75v4.5M635.18 1063.55v-4.5M635.18 626.75v4.5M646.62 1063.55v-4.5M646.62 626.75v4.5M658.06 1063.55v-4.5M658.06 626.75v4.5M669.50 1063.55v-8.8M669.50 626.75v8.8M97.50 1063.55h11.4M669.50 1063.55h-11.4M97.50 1041.71h5.8M669.50 1041.71h-5.8M97.50 1019.87h5.8M669.50 1019.87h-5.8M97.50 998.03h5.8M669.50 998.03h-5.8M97.50 976.19h5.8M669.50 976.19h-5.8M97.50 954.35h11.4M669.50 954.35h-11.4M97.50 932.51h5.8M669.50 932.51h-5.8M97.50 910.67h5.8M669.50 910.67h-5.8M97.50 888.83h5.8M669.50 888.83h-5.8M97.50 866.99h5.8M669.50 866.99h-5.8M97.50 845.15h11.4M669.50 845.15h-11.4M97.50 823.31h5.8M669.50 823.31h-5.8M97.50 801.47h5.8M669.50 801.47h-5.8M97.50 779.63h5.8M669.50 779.63h-5.8M97.50 757.79h5.8M669.50 757.79h-5.8M97.50 735.95h11.4M669.50 735.95h-11.4M97.50 714.11h5.8M669.50 714.11h-5.8M97.50 692.27h5.8M669.50 692.27h-5.8M97.50 670.43h5.8M669.50 670.43h-5.8M97.50 648.59h5.8M669.50 648.59h-5.8M97.50 626.75h11.4M669.50 626.75h-11.4" stroke="#000" stroke-width="2.5" fill="none"/>
<path d="M468.9 785.2L478.8 785.2L473.9 774.9ZM464.4 797.3L474.2 797.3L469.3 787.0ZM465.7 810.0L475.6 810.0L470.6 799.7ZM474.2 812.1L484.1 812.1L479.1 801.8ZM481.4 812.1L491.3 812.1L486.4 801.8ZM488.7 811.1L498.6 811.1L493.6 800.8ZM467.7 819.2L477.6 819.2L472.6 808.9ZM495.2 823.5L505.1 823.5L500.1 813.2ZM500.4 822.0L510.3 822.0L505.4 811.7ZM485.9 834.8L495.8 834.8L490.9 824.5ZM495.2 834.8L505.1 834.8L500.1 824.5ZM501.2 834.0L511.1 834.0L506.1 823.7ZM467.7 830.5L477.6 830.5L472.6 820.2ZM490.6 859.6L500.4 859.6L495.5 849.3ZM502.4 854.6L512.4 854.6L507.4 844.3ZM471.6 853.9L481.4 853.9L476.5 843.6ZM508.2 834.8L518.1 834.8L513.1 824.5ZM525.2 839.0L535.2 839.0L530.2 828.7ZM527.2 848.3L537.2 848.3L532.2 838.0ZM541.6 854.6L551.6 854.6L546.6 844.3ZM510.8 858.2L520.8 858.2L515.8 847.9ZM544.2 950.8L554.2 950.8L549.2 940.5ZM648.4 964.5L658.4 964.5L653.4 954.2ZM550.5 887.3L560.5 887.3L555.5 877.0ZM536.5 897.6L546.5 897.6L541.5 887.3ZM563.0 895.0L573.0 895.0L568.0 884.7ZM600.0 926.3L610.0 926.3L605.0 916.0ZM178.2 669.0L188.0 669.0L183.1 658.7ZM179.8 687.8L189.6 687.8L184.7 677.5ZM172.6 693.7L182.4 693.7L177.5 683.4ZM181.8 695.7L191.6 695.7L186.7 685.4ZM177.2 699.0L187.0 699.0L182.1 688.7ZM199.2 700.9L209.1 700.9L204.2 690.6ZM216.2 697.7L226.1 697.7L221.2 687.4ZM174.6 704.2L184.4 704.2L179.5 693.9ZM179.8 705.5L189.6 705.5L184.7 695.2ZM185.1 706.9L194.9 706.9L190.0 696.6ZM189.7 704.2L199.5 704.2L194.6 693.9ZM173.2 710.8L183.0 710.8L178.1 700.5ZM178.5 712.1L188.3 712.1L183.4 701.8ZM187.7 710.8L197.5 710.8L192.6 700.5ZM192.9 712.1L202.8 712.1L197.8 701.8ZM175.9 717.4L185.8 717.4L180.8 707.1ZM182.4 718.7L192.2 718.7L187.3 708.4ZM186.4 721.3L196.2 721.3L191.3 711.0ZM191.6 722.6L201.4 722.6L196.5 712.3ZM171.9 723.9L181.8 723.9L176.8 713.6ZM179.8 725.2L189.6 725.2L184.7 714.9ZM206.7 725.9L216.5 725.9L211.6 715.6ZM210.7 727.9L220.5 727.9L215.6 717.6ZM218.6 722.6L228.4 722.6L223.5 712.3ZM170.0 700.3L179.8 700.3L174.9 690.0ZM170.6 716.1L180.4 716.1L175.5 705.8ZM183.1 712.1L192.9 712.1L188.0 701.8ZM167.7 730.4L177.5 730.4L172.6 720.1ZM174.2 732.3L184.1 732.3L179.2 722.0ZM182.9 730.4L192.8 730.4L187.8 720.1ZM189.5 734.2L199.3 734.2L194.4 723.9ZM196.2 738.0L206.0 738.0L201.1 727.7ZM170.5 738.0L180.3 738.0L175.4 727.7ZM178.1 742.7L187.9 742.7L183.0 732.4ZM184.8 738.0L194.6 738.0L189.7 727.7ZM204.7 736.1L214.5 736.1L209.6 725.8ZM210.4 735.1L220.2 735.1L215.3 724.8ZM227.5 737.0L237.3 737.0L232.4 726.7ZM220.8 741.7L230.6 741.7L225.7 731.4ZM217.0 745.5L226.8 745.5L221.9 735.2ZM197.1 742.7L206.9 742.7L202.0 732.4ZM202.8 744.6L212.6 744.6L207.7 734.3ZM255.9 726.6L265.8 726.6L260.8 716.3ZM271.1 746.5L280.9 746.5L276.0 736.2ZM215.1 755.0L224.9 755.0L220.0 744.7ZM204.7 753.1L214.5 753.1L209.6 742.8ZM224.6 749.3L234.4 749.3L229.5 739.0ZM231.2 751.2L241.1 751.2L236.2 740.9ZM236.0 755.0L245.8 755.0L240.9 744.7ZM205.6 767.4L215.4 767.4L210.5 757.1ZM237.0 760.7L246.8 760.7L241.9 750.4ZM242.7 768.3L252.5 768.3L247.6 758.0ZM249.2 753.1L259.1 753.1L254.2 742.8ZM254.9 758.8L264.8 758.8L259.9 748.5ZM260.7 762.6L270.6 762.6L265.6 752.3ZM265.4 760.7L275.2 760.7L270.3 750.4ZM256.9 770.2L266.8 770.2L261.8 759.9ZM263.4 770.2L273.3 770.2L268.4 759.9ZM270.2 766.4L280.1 766.4L275.1 756.1ZM276.8 764.5L286.6 764.5L281.7 754.2ZM279.7 770.2L289.6 770.2L284.6 759.9ZM259.7 777.8L269.6 777.8L264.6 767.5ZM274.9 775.9L284.8 775.9L279.8 765.6ZM266.4 774.0L276.2 774.0L271.3 763.7ZM171.5 725.6L181.3 725.6L176.4 715.3ZM179.1 727.5L188.9 727.5L184.0 717.2ZM188.6 728.5L198.4 728.5L193.5 718.2ZM208.5 731.3L218.3 731.3L213.4 721.0Z" stroke="#3e40a8" stroke-width="2.3" fill="none" stroke-linejoin="miter" stroke-miterlimit="2.2" clip-path="url(#cp2)"/>
<path d="M606.3 951.3h10.4M611.5 946.1v10.4M626.4 982.1h10.4M631.6 976.9v10.4M613.6 956.4h10.4M618.8 951.2v10.4M596.4 942.3h10.4M601.6 937.1v10.4M574.2 938.2h10.4M579.4 933.0v10.4M603.2 937.6h10.4M608.4 932.4v10.4M567.9 916.4h10.4M573.1 911.2v10.4M624.7 965.1h10.4M629.9 959.9v10.4M615.2 952.7h10.4M620.4 947.5v10.4M575.8 909.6h10.4M581.0 904.4v10.4M621.9 966.6h10.4M627.1 961.4v10.4M580.2 921.9h10.4M585.4 916.7v10.4M622.0 948.5h10.4M627.2 943.3v10.4M585.3 920.8h10.4M590.5 915.6v10.4M609.7 956.2h10.4M614.9 951.0v10.4M579.9 914.0h10.4M585.1 908.8v10.4M627.9 977.4h10.4M633.1 972.2v10.4M623.3 970.4h10.4M628.5 965.2v10.4M577.5 916.9h10.4M582.7 911.7v10.4M605.0 946.7h10.4M610.2 941.5v10.4M567.3 921.6h10.4M572.5 916.4v10.4M586.6 940.2h10.4M591.8 935.0v10.4M618.6 969.2h10.4M623.8 964.0v10.4M611.4 936.7h10.4M616.6 931.5v10.4M568.5 909.0h10.4M573.7 903.8v10.4M616.6 962.2h10.4M621.8 957.0v10.4M590.1 936.9h10.4M595.3 931.7v10.4M600.1 944.1h10.4M605.3 938.9v10.4M626.6 973.7h10.4M631.8 968.5v10.4M572.8 929.0h10.4M578.0 923.8v10.4M588.5 924.5h10.4M593.7 919.3v10.4M587.0 931.6h10.4M592.2 926.4v10.4M576.4 921.1h10.4M581.6 915.9v10.4M610.4 950.2h10.4M615.6 945.0v10.4M570.1 919.9h10.4M575.3 914.7v10.4M582.0 931.0h10.4M587.2 925.8v10.4M593.6 947.3h10.4M598.8 942.1v10.4M637.8 981.6h10.4M643.0 976.4v10.4M647.3 987.0h10.4M652.5 981.8v10.4M650.3 993.5h10.4M655.5 988.3v10.4M641.6 985.1h10.4M646.8 979.9v10.4M628.4 960.4h10.4M633.6 955.2v10.4M636.7 986.2h10.4M641.9 981.0v10.4M636.7 996.4h10.4M641.9 991.2v10.4M632.3 985.5h10.4M637.5 980.3v10.4M635.3 969.6h10.4M640.5 964.4v10.4M651.4 999.4h10.4M656.6 994.2v10.4M650.6 1010.1h10.4M655.8 1004.9v10.4M626.7 967.4h10.4M631.9 962.2v10.4M648.1 983.4h10.4M653.3 978.2v10.4M643.3 1005.0h10.4M648.5 999.8v10.4M541.7 915.2h10.4M546.9 910.0v10.4M505.4 903.0h10.4M510.6 897.8v10.4M540.5 903.0h10.4M545.7 897.8v10.4M506.5 868.4h10.4M511.7 863.2v10.4M531.1 904.0h10.4M536.3 898.8v10.4M482.3 880.6h10.4M487.5 875.4v10.4M538.9 905.9h10.4M544.1 900.7v10.4M521.0 886.1h10.4M526.2 880.9v10.4M549.7 923.7h10.4M554.9 918.5v10.4M511.1 898.7h10.4M516.3 893.5v10.4M511.3 874.2h10.4M516.5 869.0v10.4M540.3 921.5h10.4M545.5 916.3v10.4M565.0 910.2h10.4M570.2 905.0v10.4M526.7 899.6h10.4M531.9 894.4v10.4M495.5 863.6h10.4M500.7 858.4v10.4M522.2 911.6h10.4M527.4 906.4v10.4M584.8 927.5h10.4M590.0 922.3v10.4M583.2 936.6h10.4M588.4 931.4v10.4M580.5 934.1h10.4M585.7 928.9v10.4M596.4 933.6h10.4M601.6 928.4v10.4M595.2 937.5h10.4M600.4 932.3v10.4M578.2 930.8h10.4M583.4 925.6v10.4M582.6 943.0h10.4M587.8 937.8v10.4M610.4 960.1h10.4M615.6 954.9v10.4M600.4 960.7h10.4M605.6 955.5v10.4M601.0 951.6h10.4M606.2 946.4v10.4M575.7 935.4h10.4M580.9 930.2v10.4M572.4 934.9h10.4M577.6 929.7v10.4M620.8 974.0h10.4M626.0 968.8v10.4M602.9 963.7h10.4M608.1 958.5v10.4M576.5 940.6h10.4M581.7 935.4v10.4M593.2 955.2h10.4M598.4 950.0v10.4M609.5 969.9h10.4M614.7 964.7v10.4M581.0 945.9h10.4M586.2 940.7v10.4M605.7 966.1h10.4M610.9 960.9v10.4M186.3 697.8h10.4M191.5 692.6v10.4M229.8 692.9h10.4M235.0 687.7v10.4M222.8 709.2h10.4M228.0 704.0v10.4M172.0 715.7h10.4M177.2 710.5v10.4M175.5 720.9h10.4M180.7 715.7v10.4M269.6 788.3h10.4M274.8 783.1v10.4M275.7 802.3h10.4M280.9 797.1v10.4M298.9 674.7h10.4M304.1 669.5v10.4M297.7 692.2h10.4M302.9 687.0v10.4M300.0 699.2h10.4M305.2 694.0v10.4M289.1 705.9h10.4M294.3 700.7v10.4M293.7 720.2h10.4M298.9 715.0v10.4M310.2 716.0h10.4M315.4 710.8v10.4M287.2 727.6h10.4M292.4 722.4v10.4M354.3 711.5h10.4M359.5 706.3v10.4M338.0 728.5h10.4M343.2 723.3v10.4M338.0 736.0h10.4M343.2 730.8v10.4M372.2 727.6h10.4M377.4 722.4v10.4M324.9 738.5h10.4M330.1 733.3v10.4M340.6 741.0h10.4M345.8 735.8v10.4M371.3 747.2h10.4M376.5 742.0v10.4M336.3 755.9h10.4M341.5 750.7v10.4M324.9 764.7h10.4M330.1 759.5v10.4M341.5 766.4h10.4M346.7 761.2v10.4M354.7 767.3h10.4M359.9 762.1v10.4M282.0 791.8h10.4M287.2 786.6v10.4M295.1 798.0h10.4M300.3 792.8v10.4M301.2 806.7h10.4M306.4 801.5v10.4M305.6 806.7h10.4M310.8 801.5v10.4M319.6 802.3h10.4M324.8 797.1v10.4M368.7 783.9h10.4M373.9 778.7v10.4M374.8 785.7h10.4M380.0 780.5v10.4M262.2 854.7h10.4M267.4 849.5v10.4M315.2 824.5h10.4M320.4 819.3v10.4M328.4 834.2h10.4M333.6 829.0v10.4M336.3 828.9h10.4M341.5 823.7v10.4M343.3 847.3h10.4M348.5 842.1v10.4M345.9 809.6h10.4M351.1 804.4v10.4M354.7 812.3h10.4M359.9 807.1v10.4M365.2 807.9h10.4M370.4 802.7v10.4M362.5 816.6h10.4M367.7 811.4v10.4M371.3 830.7h10.4M376.5 825.5v10.4M366.9 841.2h10.4M372.1 836.0v10.4M388.7 754.9h10.4M393.9 749.7v10.4M397.5 757.2h10.4M402.7 752.0v10.4M407.4 746.0h10.4M412.6 740.8v10.4M408.9 757.2h10.4M414.1 752.0v10.4M419.2 763.1h10.4M424.4 757.9v10.4M426.4 761.8h10.4M431.6 756.6v10.4M420.5 770.9h10.4M425.7 765.7v10.4M432.3 771.6h10.4M437.5 766.4v10.4M381.7 770.3h10.4M386.9 765.1v10.4M396.6 770.9h10.4M401.8 765.7v10.4M378.4 774.6h10.4M383.6 769.4v10.4M398.8 790.6h10.4M404.0 785.4v10.4M408.0 793.2h10.4M413.2 788.0v10.4M444.8 788.0h10.4M450.0 782.8v10.4M442.2 801.1h10.4M447.4 795.9v10.4M403.4 813.0h10.4M408.6 807.8v10.4M414.6 816.9h10.4M419.8 811.7v10.4M429.0 815.6h10.4M434.2 810.4v10.4M429.7 821.2h10.4M434.9 816.0v10.4M444.8 816.9h10.4M450.0 811.7v10.4M400.1 826.8h10.4M405.3 821.6v10.4M369.3 837.3h10.4M374.5 832.1v10.4M392.2 835.9h10.4M397.4 830.7v10.4M413.3 835.3h10.4M418.5 830.1v10.4M377.1 879.9h10.4M382.3 874.7v10.4M379.1 856.3h10.4M384.3 851.1v10.4M416.8 879.9h10.4M422.0 874.7v10.4M408.7 892.0h10.4M413.9 886.8v10.4M436.9 894.1h10.4M442.1 888.9v10.4M371.9 839.9h10.4M377.1 834.7v10.4M376.5 844.5h10.4M381.7 839.3v10.4M383.7 845.8h10.4M388.9 840.6v10.4M391.6 846.0h10.4M396.8 840.8v10.4M394.6 844.2h10.4M399.8 839.0v10.4M404.5 842.2h10.4M409.7 837.0v10.4M406.7 844.7h10.4M411.9 839.5v10.4M412.6 851.3h10.4M417.8 846.1v10.4M416.6 849.4h10.4M421.8 844.2v10.4M417.2 858.2h10.4M422.4 853.0v10.4M439.5 848.4h10.4M444.7 843.2v10.4M433.0 861.5h10.4M438.2 856.3v10.4M442.2 863.5h10.4M447.4 858.3v10.4M449.5 784.0h10.4M454.7 778.8v10.4M460.8 781.4h10.4M466.0 776.2v10.4M456.5 792.6h10.4M461.7 787.4v10.4M474.2 790.2h10.4M479.4 785.0v10.4M463.0 797.8h10.4M468.2 792.6v10.4M457.4 807.7h10.4M462.6 802.5v10.4M488.0 810.3h10.4M493.2 805.1v10.4M478.2 822.7h10.4M483.4 817.5v10.4M493.9 826.0h10.4M499.1 820.8v10.4M470.9 830.6h10.4M476.1 825.4v10.4M468.3 835.2h10.4M473.5 830.0v10.4M492.6 835.9h10.4M497.8 830.7v10.4M494.6 845.7h10.4M499.8 840.5v10.4M457.1 839.8h10.4M462.3 834.6v10.4M454.5 845.7h10.4M459.7 840.5v10.4M459.8 847.0h10.4M465.0 841.8v10.4M454.5 854.3h10.4M459.7 849.1v10.4M472.9 849.7h10.4M478.1 844.5v10.4M478.2 853.6h10.4M483.4 848.4v10.4M481.4 858.9h10.4M486.6 853.7v10.4M476.8 861.5h10.4M482.0 856.3v10.4M513.6 842.4h10.4M518.8 837.2v10.4M511.0 845.7h10.4M516.2 840.5v10.4M512.3 851.0h10.4M517.5 845.8v10.4M518.9 851.6h10.4M524.1 846.4v10.4M450.6 866.8h10.4M455.8 861.6v10.4M457.1 864.1h10.4M462.3 858.9v10.4M461.1 866.8h10.4M466.3 861.6v10.4M454.5 870.7h10.4M459.7 865.5v10.4M472.2 864.8h10.4M477.4 859.6v10.4M480.1 864.1h10.4M485.3 858.9v10.4M497.9 869.4h10.4M503.1 864.2v10.4M521.5 866.1h10.4M526.7 860.9v10.4M470.3 874.6h10.4M475.5 869.4v10.4M475.5 874.6h10.4M480.7 869.4v10.4M482.1 874.0h10.4M487.3 868.8v10.4M518.9 877.9h10.4M524.1 872.7v10.4M475.3 908.1h10.4M480.5 902.9v10.4M510.3 922.3h10.4M515.5 917.1v10.4M472.9 890.8h10.4M478.1 885.6v10.4M479.5 893.4h10.4M484.7 888.2v10.4M487.4 897.6h10.4M492.6 892.4v10.4M496.6 893.0h10.4M501.8 887.8v10.4M511.0 889.1h10.4M516.2 883.9v10.4M507.7 896.9h10.4M512.9 891.7v10.4M512.3 908.1h10.4M517.5 902.9v10.4M518.9 901.5h10.4M524.1 896.3v10.4M518.9 912.0h10.4M524.1 906.8v10.4M524.8 919.3h10.4M530.0 914.1v10.4M521.5 883.1h10.4M526.7 877.9v10.4M581.8 847.5h10.4M587.0 842.3v10.4M533.9 841.0h10.4M539.1 835.8v10.4M594.3 865.2h10.4M599.5 860.0v10.4M592.3 878.0h10.4M597.5 872.8v10.4M577.2 879.3h10.4M582.4 874.1v10.4M598.9 890.5h10.4M604.1 885.3v10.4M604.1 889.2h10.4M609.3 884.0v10.4M534.5 877.3h10.4M539.7 872.1v10.4M527.9 880.6h10.4M533.1 875.4v10.4M537.1 883.2h10.4M542.3 878.0v10.4M541.1 885.9h10.4M546.3 880.7v10.4M522.7 889.2h10.4M527.9 884.0v10.4M559.5 886.5h10.4M564.7 881.3v10.4M560.8 891.8h10.4M566.0 886.6v10.4M556.8 895.7h10.4M562.0 890.5v10.4M554.2 901.0h10.4M559.4 895.8v10.4M579.2 889.2h10.4M584.4 884.0v10.4M582.5 893.1h10.4M587.7 887.9v10.4M573.9 897.0h10.4M579.1 891.8v10.4M579.2 899.7h10.4M584.4 894.5v10.4M584.4 898.4h10.4M589.6 893.2v10.4M588.4 902.3h10.4M593.6 897.1v10.4M572.6 903.6h10.4M577.8 898.4v10.4M580.5 907.6h10.4M585.7 902.4v10.4M585.7 910.2h10.4M590.9 905.0v10.4M576.6 912.8h10.4M581.8 907.6v10.4M592.3 907.6h10.4M597.5 902.4v10.4M598.9 904.9h10.4M604.1 899.7v10.4M602.8 901.0h10.4M608.0 895.8v10.4M526.6 910.2h10.4M531.8 905.0v10.4M545.0 902.3h10.4M550.2 897.1v10.4M542.4 907.6h10.4M547.6 902.4v10.4M539.8 911.5h10.4M545.0 906.3v10.4M545.0 912.8h10.4M550.2 907.6v10.4M531.9 916.8h10.4M537.1 911.6v10.4M521.4 920.7h10.4M526.6 915.5v10.4M527.9 922.0h10.4M533.1 916.8v10.4M556.8 906.2h10.4M562.0 901.0v10.4M559.5 911.5h10.4M564.7 906.3v10.4M560.8 916.8h10.4M566.0 911.6v10.4M558.2 922.0h10.4M563.4 916.8v10.4M563.4 924.6h10.4M568.6 919.4v10.4M577.9 925.9h10.4M583.1 920.7v10.4M593.6 919.4h10.4M598.8 914.2v10.4M598.9 914.1h10.4M604.1 908.9v10.4M602.8 911.5h10.4M608.0 906.3v10.4M535.8 925.9h10.4M541.0 920.7v10.4M514.8 868.1h10.4M520.0 862.9v10.4M514.8 920.7h10.4M520.0 915.5v10.4M548.3 948.2h10.4M553.5 943.0v10.4M554.2 939.7h10.4M559.4 934.5v10.4M558.2 933.1h10.4M563.4 927.9v10.4M566.0 939.7h10.4M571.2 934.5v10.4M577.9 964.0h10.4M583.1 958.8v10.4M581.8 966.0h10.4M587.0 960.8v10.4M572.6 951.5h10.4M577.8 946.3v10.4M576.6 946.3h10.4M581.8 941.1v10.4M580.5 950.2h10.4M585.7 945.0v10.4M584.4 954.2h10.4M589.6 949.0v10.4M588.4 948.9h10.4M593.6 943.7v10.4M585.7 943.6h10.4M590.9 938.4v10.4M591.0 942.3h10.4M596.2 937.1v10.4M601.5 956.8h10.4M606.7 951.6v10.4M588.4 959.4h10.4M593.6 954.2v10.4M531.9 922.0h10.4M537.1 916.8v10.4M608.4 880.4h10.4M613.6 875.2v10.4M610.9 917.0h10.4M616.1 911.8v10.4M630.5 924.2h10.4M635.7 919.0v10.4M647.5 938.6h10.4M652.7 933.4v10.4M658.1 951.6h10.4M663.3 946.4v10.4M656.8 968.4h10.4M662.0 963.2v10.4M638.2 943.5h10.4M643.4 938.3v10.4M637.0 951.0h10.4M642.2 945.8v10.4M646.9 948.5h10.4M652.1 943.3v10.4M607.2 924.9h10.4M612.4 919.7v10.4M602.2 931.1h10.4M607.4 925.9v10.4M613.4 931.1h10.4M618.6 925.9v10.4M599.8 937.3h10.4M605.0 932.1v10.4M597.3 951.0h10.4M602.5 945.8v10.4M604.7 955.9h10.4M609.9 950.7v10.4M629.5 953.5h10.4M634.7 948.3v10.4M646.9 968.4h10.4M652.1 963.2v10.4M650.6 977.0h10.4M655.8 971.8v10.4M659.3 979.5h10.4M664.5 974.3v10.4M654.4 984.5h10.4M659.6 979.3v10.4M632.0 979.5h10.4M637.2 974.3v10.4M644.4 977.0h10.4M649.6 971.8v10.4M638.9 1019.1h10.4M644.1 1013.9v10.4M646.9 1019.7h10.4M652.1 1014.5v10.4M655.6 1017.8h10.4M660.8 1012.6v10.4M661.8 1017.2h10.4M667.0 1012.0v10.4M608.4 993.6h10.4M613.6 988.4v10.4M627.1 997.4h10.4M632.3 992.2v10.4M639.5 1004.8h10.4M644.7 999.6v10.4M659.3 1011.0h10.4M664.5 1005.8v10.4M661.8 992.4h10.4M667.0 987.2v10.4" stroke="#000" stroke-width="2.4" fill="none" clip-path="url(#cp2)"/>
<path d="M264.8 697.0h10.5v10.5h-10.5ZM240.1 707.0h10.5v10.5h-10.5ZM241.4 713.5h10.5v10.5h-10.5ZM239.8 731.1h10.5v10.5h-10.5ZM247.7 730.2h10.5v10.5h-10.5ZM253.8 732.0h10.5v10.5h-10.5ZM245.8 742.8h10.5v10.5h-10.5ZM202.9 743.6h10.5v10.5h-10.5ZM224.8 757.6h10.5v10.5h-10.5ZM282.4 729.6h10.5v10.5h-10.5ZM300.6 728.8h10.5v10.5h-10.5ZM310.9 734.9h10.5v10.5h-10.5ZM316.1 734.0h10.5v10.5h-10.5ZM341.4 760.4h10.5v10.5h-10.5ZM366.9 761.1h10.5v10.5h-10.5ZM350.2 770.0h10.5v10.5h-10.5ZM352.9 775.1h10.5v10.5h-10.5ZM342.4 774.4h10.5v10.5h-10.5ZM331.9 778.6h10.5v10.5h-10.5ZM330.1 785.8h10.5v10.5h-10.5ZM335.4 787.5h10.5v10.5h-10.5ZM344.9 784.9h10.5v10.5h-10.5ZM350.2 787.5h10.5v10.5h-10.5ZM344.1 791.9h10.5v10.5h-10.5ZM351.9 796.2h10.5v10.5h-10.5ZM283.6 810.2h10.5v10.5h-10.5ZM334.4 813.2h10.5v10.5h-10.5ZM295.1 826.2h10.5v10.5h-10.5ZM371.2 810.9h10.5v10.5h-10.5ZM393.1 783.6h10.5v10.5h-10.5ZM374.4 807.8h10.5v10.5h-10.5ZM381.6 828.8h10.5v10.5h-10.5ZM423.8 832.6h10.5v10.5h-10.5ZM378.1 871.0h10.5v10.5h-10.5ZM435.6 829.0h10.5v10.5h-10.5ZM444.2 829.5h10.5v10.5h-10.5ZM559.1 869.5h10.5v10.5h-10.5ZM547.0 919.1h10.5v10.5h-10.5ZM594.2 922.5h10.5v10.5h-10.5ZM577.1 930.5h10.5v10.5h-10.5ZM595.9 960.0h10.5v10.5h-10.5ZM577.5 975.9h10.5v10.5h-10.5ZM628.2 930.2h10.5v10.5h-10.5ZM616.5 940.8h10.5v10.5h-10.5ZM610.9 950.6h10.5v10.5h-10.5ZM620.1 950.6h10.5v10.5h-10.5ZM614.6 955.0h10.5v10.5h-10.5ZM631.4 962.5h10.5v10.5h-10.5ZM606.5 977.2h10.5v10.5h-10.5ZM609.0 983.5h10.5v10.5h-10.5ZM620.9 985.2h10.5v10.5h-10.5ZM635.6 994.6h10.5v10.5h-10.5ZM645.9 993.6h10.5v10.5h-10.5ZM654.4 999.5h10.5v10.5h-10.5ZM659.5 995.2h10.5v10.5h-10.5ZM615.0 976.5h10.5v10.5h-10.5ZM578.9 976.9h10.5v10.5h-10.5Z" stroke="#da1e0a" stroke-width="2.2" fill="none" clip-path="url(#cp2)"/>
<path d="M131.5 774.2l5.2 5.2l-5.2 5.2l-5.2 -5.2ZM165.7 780.4l5.2 5.2l-5.2 5.2l-5.2 -5.2Z" stroke="#808020" stroke-width="2.3" fill="none"/>
<path d="M97.5 771.1L100.4 771.6L103.2 772.2L106.1 772.7L108.9 773.3L111.8 773.8L114.7 774.4L117.5 774.9L120.4 775.5L123.2 776.1L126.1 776.6L129.0 777.2L131.8 777.8L134.7 778.4L137.5 779.0L140.4 779.5L143.3 780.1L146.1 780.7L149.0 781.3L151.8 782.0L154.7 782.6L157.6 783.2L160.4 783.8L163.3 784.4L166.1 785.0L169.0 785.7L171.9 786.3L174.7 787.0L177.6 787.6L180.4 788.2L183.3 788.9L186.2 789.6L189.0 790.2L191.9 790.9L194.7 791.5L197.6 792.2L200.5 792.9L203.3 793.6L206.2 794.3L209.0 795.0L211.9 795.6L214.8 796.3L217.6 797.0L220.5 797.8L223.3 798.5L226.2 799.2L229.1 799.9L231.9 800.6L234.8 801.4L237.6 802.1L240.5 802.8L243.4 803.6L246.2 804.3L249.1 805.1L251.9 805.8L254.8 806.6L257.7 807.4L260.5 808.1L263.4 808.9L266.2 809.7L269.1 810.5L272.0 811.3L274.8 812.1L277.7 812.9L280.5 813.7L283.4 814.5L286.3 815.3L289.1 816.1L292.0 816.9L294.8 817.8L297.7 818.6L300.6 819.5L303.4 820.3L306.3 821.2L309.1 822.0L312.0 822.9L314.9 823.7L317.7 824.6L320.6 825.5L323.4 826.4L326.3 827.3L329.2 828.2L332.0 829.1L334.9 830.0L337.7 830.9L340.6 831.8L343.5 832.7L346.3 833.7L349.2 834.6L352.0 835.5L354.9 836.5L357.8 837.4L360.6 838.4L363.5 839.4L366.3 840.3L369.2 841.3L372.1 842.3L374.9 843.3L377.8 844.3L380.6 845.3L383.5 846.3L386.4 847.3L389.2 848.4L392.1 849.4L394.9 850.4L397.8 851.5L400.7 852.5L403.5 853.6L406.4 854.7L409.2 855.8L412.1 856.8L415.0 857.9L417.8 859.0L420.7 860.1L423.5 861.3L426.4 862.4L429.3 863.5L432.1 864.7L435.0 865.8L437.8 867.0L440.7 868.1L443.6 869.3L446.4 870.5L449.3 871.7L452.1 872.9L455.0 874.1L457.9 875.3L460.7 876.6L463.6 877.8L466.4 879.0L469.3 880.3L472.2 881.6L475.0 882.9L477.9 884.2L480.7 885.5L483.6 886.8L486.5 888.1L489.3 889.5L492.2 890.8L495.0 892.2L497.9 893.6L500.8 894.9L503.6 896.3L506.5 897.8L509.3 899.2L512.2 900.6L515.1 902.1L517.9 903.6L520.8 905.1L523.6 906.6L526.5 908.1L529.4 909.6L532.2 911.2L535.1 912.8L537.9 914.3L540.8 916.0L543.7 917.6L546.5 919.2L549.4 920.9L552.2 922.6L555.1 924.3L558.0 926.0L560.8 927.8L563.7 929.6L566.5 931.4L569.4 933.2L572.3 935.1L575.1 937.0L578.0 938.9L580.8 940.8L583.7 942.8L586.6 944.8L589.4 946.9L592.3 949.0L595.1 951.1L598.0 953.3L600.9 955.5L603.7 957.8L606.6 960.1L609.4 962.5L612.3 964.9L615.2 967.4L618.0 970.0L620.9 972.6L623.7 975.3L626.6 978.1L629.5 981.0L632.3 984.0L635.2 987.1L638.0 990.4L640.9 993.8L643.8 997.3L646.6 1001.1L649.5 1005.2L652.3 1009.5L655.2 1014.2L658.1 1019.4" stroke="#90dce8" stroke-width="2.7" fill="none"/>
<path d="M97.5 704.2L100.4 704.8L103.2 705.5L106.1 706.2L108.9 706.9L111.8 707.5L114.7 708.2L117.5 708.9L120.4 709.6L123.2 710.3L126.1 711.0L129.0 711.7L131.8 712.4L134.7 713.1L137.5 713.9L140.4 714.6L143.3 715.3L146.1 716.0L149.0 716.8L151.8 717.5L154.7 718.3L157.6 719.0L160.4 719.8L163.3 720.6L166.1 721.3L169.0 722.1L171.9 722.9L174.7 723.7L177.6 724.5L180.4 725.3L183.3 726.1L186.2 726.9L189.0 727.7L191.9 728.5L194.7 729.3L197.6 730.1L200.5 731.0L203.3 731.8L206.2 732.7L209.0 733.5L211.9 734.4L214.8 735.2L217.6 736.1L220.5 737.0L223.3 737.8L226.2 738.7L229.1 739.6L231.9 740.5L234.8 741.4L237.6 742.3L240.5 743.2L243.4 744.1L246.2 745.0L249.1 746.0L251.9 746.9L254.8 747.8L257.7 748.8L260.5 749.7L263.4 750.7L266.2 751.6L269.1 752.6L272.0 753.6L274.8 754.5L277.7 755.5L280.5 756.5L283.4 757.5L286.3 758.5L289.1 759.5L292.0 760.5L294.8 761.6L297.7 762.6L300.6 763.6L303.4 764.7L306.3 765.7L309.1 766.8L312.0 767.8L314.9 768.9L317.7 770.0L320.6 771.0L323.4 772.1L326.3 773.2L329.2 774.3L332.0 775.4L334.9 776.5L337.7 777.7L340.6 778.8L343.5 779.9L346.3 781.1L349.2 782.2L352.0 783.4L354.9 784.5L357.8 785.7L360.6 786.9L363.5 788.1L366.3 789.3L369.2 790.5L372.1 791.7L374.9 792.9L377.8 794.1L380.6 795.4L383.5 796.6L386.4 797.9L389.2 799.1L392.1 800.4L394.9 801.7L397.8 803.0L400.7 804.3L403.5 805.6L406.4 806.9L409.2 808.2L412.1 809.6L415.0 810.9L417.8 812.2L420.7 813.6L423.5 815.0L426.4 816.4L429.3 817.8L432.1 819.2L435.0 820.6L437.8 822.0L440.7 823.4L443.6 824.9L446.4 826.3L449.3 827.8L452.1 829.3L455.0 830.8L457.9 832.3L460.7 833.8L463.6 835.3L466.4 836.8L469.3 838.4L472.2 840.0L475.0 841.5L477.9 843.1L480.7 844.7L483.6 846.4L486.5 848.0L489.3 849.6L492.2 851.3L495.0 853.0L497.9 854.7L500.8 856.4L503.6 858.1L506.5 859.8L509.3 861.6L512.2 863.4L515.1 865.2L517.9 867.0L520.8 868.8L523.6 870.7L526.5 872.5L529.4 874.4L532.2 876.3L535.1 878.3L537.9 880.2L540.8 882.2L543.7 884.2L546.5 886.2L549.4 888.3L552.2 890.3L555.1 892.5L558.0 894.6L560.8 896.7L563.7 898.9L566.5 901.2L569.4 903.4L572.3 905.7L575.1 908.0L578.0 910.4L580.8 912.8L583.7 915.2L586.6 917.7L589.4 920.2L592.3 922.8L595.1 925.4L598.0 928.1L600.9 930.8L603.7 933.6L606.6 936.4L609.4 939.3L612.3 942.3L615.2 945.4L618.0 948.5L620.9 951.8L623.7 955.1L626.6 958.5L629.5 962.1L632.3 965.8L635.2 969.6L638.0 973.6L640.9 977.8L643.8 982.2L646.6 986.8L649.5 991.8L652.3 997.1L655.2 1002.9L658.1 1009.3" stroke="#be41a9" stroke-width="2.7" fill="none"/>
<path d="M107.51 626.75L108.9 627.2L111.8 628.0L114.7 628.8L117.5 629.7L120.4 630.5L123.2 631.4L126.1 632.2L129.0 633.1L131.8 634.0L134.7 634.8L137.5 635.7L140.4 636.6L143.3 637.5L146.1 638.4L149.0 639.3L151.8 640.2L154.7 641.2L157.6 642.1L160.4 643.0L163.3 643.9L166.1 644.9L169.0 645.8L171.9 646.8L174.7 647.8L177.6 648.7L180.4 649.7L183.3 650.7L186.2 651.7L189.0 652.7L191.9 653.6L194.7 654.7L197.6 655.7L200.5 656.7L203.3 657.7L206.2 658.7L209.0 659.8L211.9 660.8L214.8 661.9L217.6 662.9L220.5 664.0L223.3 665.1L226.2 666.1L229.1 667.2L231.9 668.3L234.8 669.4L237.6 670.5L240.5 671.6L243.4 672.7L246.2 673.9L249.1 675.0L251.9 676.1L254.8 677.3L257.7 678.4L260.5 679.6L263.4 680.8L266.2 681.9L269.1 683.1L272.0 684.3L274.8 685.5L277.7 686.7L280.5 687.9L283.4 689.1L286.3 690.4L289.1 691.6L292.0 692.8L294.8 694.1L297.7 695.3L300.6 696.6L303.4 697.9L306.3 699.2L309.1 700.5L312.0 701.7L314.9 703.1L317.7 704.4L320.6 705.7L323.4 707.0L326.3 708.4L329.2 709.7L332.0 711.1L334.9 712.4L337.7 713.8L340.6 715.2L343.5 716.6L346.3 718.0L349.2 719.4L352.0 720.8L354.9 722.2L357.8 723.6L360.6 725.1L363.5 726.5L366.3 728.0L369.2 729.5L372.1 731.0L374.9 732.5L377.8 734.0L380.6 735.5L383.5 737.0L386.4 738.5L389.2 740.1L392.1 741.6L394.9 743.2L397.8 744.8L400.7 746.4L403.5 747.9L406.4 749.6L409.2 751.2L412.1 752.8L415.0 754.5L417.8 756.1L420.7 757.8L423.5 759.4L426.4 761.1L429.3 762.8L432.1 764.6L435.0 766.3L437.8 768.0L440.7 769.8L443.6 771.5L446.4 773.3L449.3 775.1L452.1 776.9L455.0 778.8L457.9 780.6L460.7 782.4L463.6 784.3L466.4 786.2L469.3 788.1L472.2 790.0L475.0 791.9L477.9 793.9L480.7 795.8L483.6 797.8L486.5 799.8L489.3 801.8L492.2 803.9L495.0 805.9L497.9 808.0L500.8 810.1L503.6 812.2L506.5 814.3L509.3 816.5L512.2 818.7L515.1 820.8L517.9 823.1L520.8 825.3L523.6 827.6L526.5 829.9L529.4 832.2L532.2 834.5L535.1 836.9L537.9 839.3L540.8 841.7L543.7 844.1L546.5 846.6L549.4 849.1L552.2 851.7L555.1 854.2L558.0 856.8L560.8 859.5L563.7 862.2L566.5 864.9L569.4 867.6L572.3 870.4L575.1 873.3L578.0 876.2L580.8 879.1L583.7 882.1L586.6 885.1L589.4 888.2L592.3 891.3L595.1 894.5L598.0 897.8L600.9 901.1L603.7 904.6L606.6 908.0L609.4 911.6L612.3 915.3L615.2 919.0L618.0 922.8L620.9 926.8L623.7 930.9L626.6 935.1L629.5 939.4L632.3 943.9L635.2 948.6L638.0 953.5L640.9 958.6L643.8 964.0L646.6 969.7L649.5 975.8L652.3 982.3L655.2 989.4L658.1 997.2" stroke="#70c000" stroke-width="2.7" fill="none"/>
<text transform="translate(97.5 1100.8) scale(1 1.07)" font-size="29.3" text-anchor="middle" font-family="'Liberation Sans', sans-serif" font-weight="bold" stroke="#000" stroke-width="0.45">40</text>
<text transform="translate(211.9 1100.8) scale(1 1.07)" font-size="29.3" text-anchor="middle" font-family="'Liberation Sans', sans-serif" font-weight="bold" stroke="#000" stroke-width="0.45">50</text>
<text transform="translate(326.3 1100.8) scale(1 1.07)" font-size="29.3" text-anchor="middle" font-family="'Liberation Sans', sans-serif" font-weight="bold" stroke="#000" stroke-width="0.45">60</text>
<text transform="translate(440.7 1100.8) scale(1 1.07)" font-size="29.3" text-anchor="middle" font-family="'Liberation Sans', sans-serif" font-weight="bold" stroke="#000" stroke-width="0.45">70</text>
<text transform="translate(555.1 1100.8) scale(1 1.07)" font-size="29.3" text-anchor="middle" font-family="'Liberation Sans', sans-serif" font-weight="bold" stroke="#000" stroke-width="0.45">80</text>
<text transform="translate(669.5 1100.8) scale(1 1.07)" font-size="29.3" text-anchor="middle" font-family="'Liberation Sans', sans-serif" font-weight="bold" stroke="#000" stroke-width="0.45">90</text>
<text transform="translate(89.5 1063.2) scale(1 1.07)" font-size="29.3" text-anchor="end" font-family="'Liberation Sans', sans-serif" font-weight="bold" stroke="#000" stroke-width="0.45">0.0</text>
<text transform="translate(89.5 964.3) scale(1 1.07)" font-size="29.3" text-anchor="end" font-family="'Liberation Sans', sans-serif" font-weight="bold" stroke="#000" stroke-width="0.45">0.5</text>
<text transform="translate(89.5 855.1) scale(1 1.07)" font-size="29.3" text-anchor="end" font-family="'Liberation Sans', sans-serif" font-weight="bold" stroke="#000" stroke-width="0.45">1.0</text>
<text transform="translate(89.5 746.0) scale(1 1.07)" font-size="29.3" text-anchor="end" font-family="'Liberation Sans', sans-serif" font-weight="bold" stroke="#000" stroke-width="0.45">1.5</text>
<text transform="translate(89.5 643.5) scale(1 1.07)" font-size="29.3" text-anchor="end" font-family="'Liberation Sans', sans-serif" font-weight="bold" stroke="#000" stroke-width="0.45">2.0</text>
<text transform="translate(383.9 1131.8) scale(1 1.07)" font-size="29.3" text-anchor="middle" font-family="'Liberation Sans', sans-serif" font-weight="bold" stroke="#000" stroke-width="0.45">SZA (degrees)</text>
<text transform="translate(26.8 1103.5) rotate(-90) scale(1 1.07)" font-size="29.1" stroke="#000" stroke-width="0.45" font-family="'Liberation Sans', sans-serif" font-weight="bold">(r/a) x Peak electron density (10<tspan font-size="17" dy="-12.5">11</tspan><tspan dy="12.5" dx="1.5"> m</tspan><tspan font-size="17" dy="-12.5">-3</tspan><tspan dy="12.5" dx="1.5">)</tspan></text>
<path d="M120.3 910.6H142.8" stroke="#90dce8" stroke-width="2.7"/>
<text x="155.2" y="911.0" font-size="19.3" word-spacing="0.4" font-family="'Liberation Sans', sans-serif" font-weight="bold">No = 1.53 x 10<tspan font-size="12.0" dy="-7.3">11</tspan><tspan dy="7.3"> m</tspan><tspan font-size="12.0" dy="-7.3">-3</tspan></text>
<path d="M120.3 932.9H142.8" stroke="#be41a9" stroke-width="2.7"/>
<text x="155.2" y="933.2" font-size="19.3" word-spacing="0.4" font-family="'Liberation Sans', sans-serif" font-weight="bold">No = 1.88 x 10<tspan font-size="12.0" dy="-7.3">11</tspan><tspan dy="7.3"> m</tspan><tspan font-size="12.0" dy="-7.3">-3</tspan></text>
<path d="M120.3 954.6H142.8" stroke="#70c000" stroke-width="2.7"/>
<text x="155.2" y="955.0" font-size="19.3" word-spacing="0.4" font-family="'Liberation Sans', sans-serif" font-weight="bold">No = 2.30 x 10<tspan font-size="12.0" dy="-7.3">11</tspan><tspan dy="7.3"> m</tspan><tspan font-size="12.0" dy="-7.3">-3</tspan></text>
<text x="155.2" y="980.9" font-size="19.3" word-spacing="0.8" font-family="'Liberation Sans', sans-serif" font-weight="bold">Mariner 9</text>
<text x="155.2" y="1001.9" font-size="19.3" word-spacing="0.8" font-family="'Liberation Sans', sans-serif" font-weight="bold">Viking Orbiter</text>
<text x="155.2" y="1023.6" font-size="19.3" word-spacing="0.8" font-family="'Liberation Sans', sans-serif" font-weight="bold">MAVEN ROSE</text>
<text x="155.2" y="1044.8" font-size="19.3" word-spacing="0.8" font-family="'Liberation Sans', sans-serif" font-weight="bold">Viking Lander</text>
<path d="M126.5 982.2L136.4 982.2L131.5 971.9Z" stroke="#3e40a8" stroke-width="2.3" fill="none" stroke-miterlimit="2.2"/>
<path d="M126.2 993.4h10.5v10.5h-10.5Z" stroke="#da1e0a" stroke-width="2.2" fill="none"/>
<path d="M126.3 1020.6h10.4M131.5 1015.4v10.4" stroke="#000" stroke-width="2.3" fill="none"/>
<path d="M131.5 1037.5l5.2 5.2l-5.2 5.2l-5.2 -5.2Z" stroke="#808020" stroke-width="2.3" fill="none"/>
</svg>
</body></html>
